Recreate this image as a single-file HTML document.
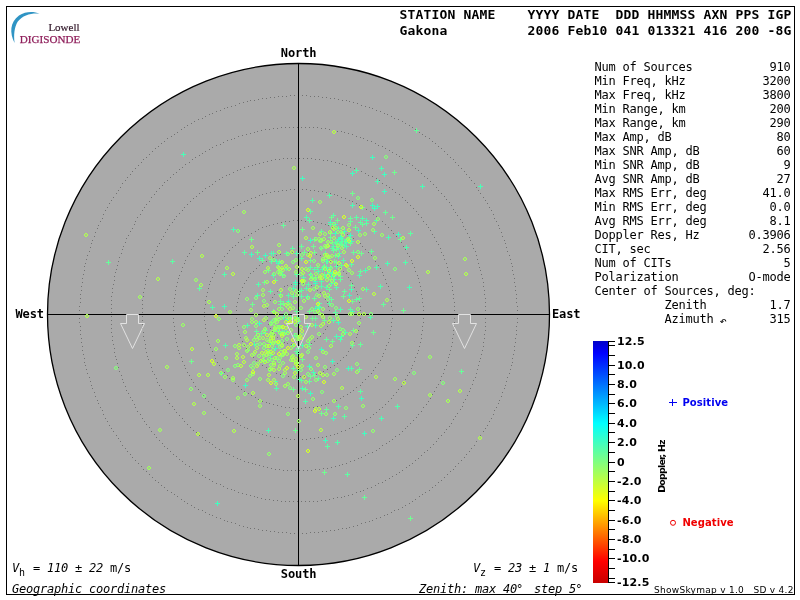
<!DOCTYPE html>
<html lang="en"><head><meta charset="utf-8"><title>Skymap - Gakona</title>
<style>
html,body{margin:0;padding:0;background:#fff;}
body{width:800px;height:600px;overflow:hidden;position:relative;}
svg{position:absolute;left:0;top:0;display:block;}
text{white-space:pre;}
.m{font-family:"DejaVu Sans Mono","Liberation Mono",monospace;font-size:12px;letter-spacing:-0.224px;fill:#000;}
.mb{font-family:"DejaVu Sans Mono","Liberation Mono",monospace;font-size:12px;font-weight:bold;letter-spacing:-0.1px;fill:#000;}
.hb{font-family:"DejaVu Sans Mono","Liberation Mono",monospace;font-size:13px;font-weight:bold;letter-spacing:0.174px;fill:#000;}
.i{font-style:oblique;}
.sb{font-family:"DejaVu Sans","Liberation Sans",sans-serif;font-weight:bold;fill:#000;}
.s{font-family:"DejaVu Sans","Liberation Sans",sans-serif;fill:#000;}
.lg{font-family:"Liberation Serif","DejaVu Serif",serif;}
</style></head><body>
<svg width="800" height="600" viewBox="0 0 800 600">
<rect x="6.5" y="6.5" width="788" height="588" fill="#fff" stroke="#000" stroke-width="1"/>
<path d="M14.6 43 C9.5 33 9.8 22 19 15.5 C25.5 11.3 33.5 11.2 39.5 13.6 C31 12.9 22.6 15.2 17.8 21.6 C14.2 27.5 13.6 35 14.6 43 Z" fill="#2f94c4"/>
<text class="lg" x="48.4" y="30.6" font-size="11" fill="#33192b" stroke="#33192b" stroke-width="0.2">Lowell</text>
<text class="lg" x="19.8" y="42.5" font-size="11.1" fill="#8f1f5b" stroke="#8f1f5b" stroke-width="0.25">DIGISONDE</text>
<text class="hb" x="399.4" y="19.2">STATION NAME    YYYY DATE  DDD HHMMSS AXN PPS IGP</text>
<text class="hb" x="399.4" y="35.2">Gakona          2006 Feb10 041 013321 416 200 -8G</text>
<circle cx="298.5" cy="314.5" r="251" fill="#aaaaaa" stroke="#000" stroke-width="1.3"/>
<path d="M329 314.5h1M329 318.5h1M328 322.5h1M327 326.5h1M325 329.5h1M323 333.5h1M320 336.5h1M317 338.5h1M314 341.5h1M311 343.5h1M307 344.5h1M303 345.5h1M299 345.5h1M295 345.5h1M291 344.5h1M287 343.5h1M284 342.5h1M280 340.5h1M277 337.5h1M274 334.5h1M272 331.5h1M270 328.5h1M268 324.5h1M267 320.5h1M267 316.5h1M267 312.5h1M267 308.5h1M268 304.5h1M270 300.5h1M272 297.5h1M274 294.5h1M277 291.5h1M280 288.5h1M284 286.5h1M287 285.5h1M291 284.5h1M295 283.5h1M299 283.5h1M303 283.5h1M307 284.5h1M311 285.5h1M314 287.5h1M317 290.5h1M320 292.5h1M323 295.5h1M325 299.5h1M327 302.5h1M328 306.5h1M329 310.5h1M361 314.5h1M360 318.5h1M360 322.5h1M359 326.5h1M358 330.5h1M357 334.5h1M356 337.5h1M354 341.5h1M352 345.5h1M350 348.5h1M348 351.5h1M346 355.5h1M343 357.5h1M340 360.5h1M337 363.5h1M334 365.5h1M330 367.5h1M327 369.5h1M323 371.5h1M320 373.5h1M316 374.5h1M312 375.5h1M308 376.5h1M304 376.5h1M300 376.5h1M296 376.5h1M292 376.5h1M288 376.5h1M284 375.5h1M280 374.5h1M276 373.5h1M273 371.5h1M269 369.5h1M266 367.5h1M262 365.5h1M259 363.5h1M256 360.5h1M253 357.5h1M250 355.5h1M248 351.5h1M246 348.5h1M244 345.5h1M242 341.5h1M240 337.5h1M239 334.5h1M238 330.5h1M237 326.5h1M236 322.5h1M236 318.5h1M236 314.5h1M236 310.5h1M236 306.5h1M237 302.5h1M238 298.5h1M239 294.5h1M240 291.5h1M242 287.5h1M244 283.5h1M246 280.5h1M248 277.5h1M250 273.5h1M253 271.5h1M256 268.5h1M259 265.5h1M262 263.5h1M266 261.5h1M269 259.5h1M273 257.5h1M276 255.5h1M280 254.5h1M284 253.5h1M288 252.5h1M292 252.5h1M296 252.5h1M300 252.5h1M304 252.5h1M308 252.5h1M312 253.5h1M316 254.5h1M320 255.5h1M323 257.5h1M327 259.5h1M330 261.5h1M334 263.5h1M337 265.5h1M340 268.5h1M343 271.5h1M346 273.5h1M348 277.5h1M350 280.5h1M352 283.5h1M354 287.5h1M356 291.5h1M357 294.5h1M358 298.5h1M359 302.5h1M360 306.5h1M360 310.5h1M392 314.5h1M392 318.5h1M391 322.5h1M391 326.5h1M390 330.5h1M390 334.5h1M389 338.5h1M388 342.5h1M386 345.5h1M385 349.5h1M383 353.5h1M382 356.5h1M380 360.5h1M378 363.5h1M375 367.5h1M373 370.5h1M371 373.5h1M368 376.5h1M365 379.5h1M362 382.5h1M360 385.5h1M356 387.5h1M353 390.5h1M350 392.5h1M347 394.5h1M343 396.5h1M340 398.5h1M336 400.5h1M332 401.5h1M328 403.5h1M325 404.5h1M321 405.5h1M317 406.5h1M313 407.5h1M309 407.5h1M305 407.5h1M301 408.5h1M297 408.5h1M293 408.5h1M289 407.5h1M285 407.5h1M281 406.5h1M277 405.5h1M273 404.5h1M269 403.5h1M266 402.5h1M262 401.5h1M258 399.5h1M255 397.5h1M251 395.5h1M248 393.5h1M244 391.5h1M241 389.5h1M238 386.5h1M235 383.5h1M232 381.5h1M229 378.5h1M227 375.5h1M224 372.5h1M222 368.5h1M219 365.5h1M217 362.5h1M215 358.5h1M214 355.5h1M212 351.5h1M210 347.5h1M209 344.5h1M208 340.5h1M207 336.5h1M206 332.5h1M205 328.5h1M205 324.5h1M204 320.5h1M204 316.5h1M204 312.5h1M204 308.5h1M205 304.5h1M205 300.5h1M206 296.5h1M207 292.5h1M208 288.5h1M209 284.5h1M210 281.5h1M212 277.5h1M214 273.5h1M215 270.5h1M217 266.5h1M219 263.5h1M222 260.5h1M224 256.5h1M227 253.5h1M229 250.5h1M232 247.5h1M235 245.5h1M238 242.5h1M241 239.5h1M244 237.5h1M248 235.5h1M251 233.5h1M255 231.5h1M258 229.5h1M262 227.5h1M266 226.5h1M269 225.5h1M273 224.5h1M277 223.5h1M281 222.5h1M285 221.5h1M289 221.5h1M293 220.5h1M297 220.5h1M301 220.5h1M305 221.5h1M309 221.5h1M313 221.5h1M317 222.5h1M321 223.5h1M325 224.5h1M328 225.5h1M332 227.5h1M336 228.5h1M340 230.5h1M343 232.5h1M347 234.5h1M350 236.5h1M353 238.5h1M356 241.5h1M360 243.5h1M362 246.5h1M365 249.5h1M368 252.5h1M371 255.5h1M373 258.5h1M375 261.5h1M378 265.5h1M380 268.5h1M382 272.5h1M383 275.5h1M385 279.5h1M386 283.5h1M388 286.5h1M389 290.5h1M390 294.5h1M390 298.5h1M391 302.5h1M391 306.5h1M392 310.5h1M423 314.5h1M423 318.5h1M423 322.5h1M422 326.5h1M422 330.5h1M421 334.5h1M421 338.5h1M420 342.5h1M419 346.5h1M418 350.5h1M417 353.5h1M415 357.5h1M414 361.5h1M412 365.5h1M411 368.5h1M409 372.5h1M407 375.5h1M405 379.5h1M403 382.5h1M401 386.5h1M398 389.5h1M396 392.5h1M393 395.5h1M391 398.5h1M388 401.5h1M385 404.5h1M382 407.5h1M379 409.5h1M376 412.5h1M373 414.5h1M370 417.5h1M366 419.5h1M363 421.5h1M359 423.5h1M356 425.5h1M352 427.5h1M349 428.5h1M345 430.5h1M341 431.5h1M337 433.5h1M334 434.5h1M330 435.5h1M326 436.5h1M322 437.5h1M318 437.5h1M314 438.5h1M310 438.5h1M306 439.5h1M302 439.5h1M298 439.5h1M294 439.5h1M290 439.5h1M286 438.5h1M282 438.5h1M278 437.5h1M274 437.5h1M270 436.5h1M266 435.5h1M262 434.5h1M259 433.5h1M255 431.5h1M251 430.5h1M247 428.5h1M244 427.5h1M240 425.5h1M237 423.5h1M233 421.5h1M230 419.5h1M226 417.5h1M223 414.5h1M220 412.5h1M217 409.5h1M214 407.5h1M211 404.5h1M208 401.5h1M205 398.5h1M203 395.5h1M200 392.5h1M198 389.5h1M195 386.5h1M193 382.5h1M191 379.5h1M189 375.5h1M187 372.5h1M185 368.5h1M184 365.5h1M182 361.5h1M181 357.5h1M179 353.5h1M178 350.5h1M177 346.5h1M176 342.5h1M175 338.5h1M175 334.5h1M174 330.5h1M174 326.5h1M173 322.5h1M173 318.5h1M173 314.5h1M173 310.5h1M173 306.5h1M174 302.5h1M174 298.5h1M175 294.5h1M175 290.5h1M176 286.5h1M177 282.5h1M178 278.5h1M179 275.5h1M181 271.5h1M182 267.5h1M184 263.5h1M185 260.5h1M187 256.5h1M189 253.5h1M191 249.5h1M193 246.5h1M195 242.5h1M198 239.5h1M200 236.5h1M203 233.5h1M205 230.5h1M208 227.5h1M211 224.5h1M214 221.5h1M217 219.5h1M220 216.5h1M223 214.5h1M226 211.5h1M230 209.5h1M233 207.5h1M237 205.5h1M240 203.5h1M244 201.5h1M247 200.5h1M251 198.5h1M255 197.5h1M259 195.5h1M262 194.5h1M266 193.5h1M270 192.5h1M274 191.5h1M278 191.5h1M282 190.5h1M286 190.5h1M290 189.5h1M294 189.5h1M298 189.5h1M302 189.5h1M306 189.5h1M310 190.5h1M314 190.5h1M318 191.5h1M322 191.5h1M326 192.5h1M330 193.5h1M334 194.5h1M337 195.5h1M341 197.5h1M345 198.5h1M349 200.5h1M352 201.5h1M356 203.5h1M359 205.5h1M363 207.5h1M366 209.5h1M370 211.5h1M373 214.5h1M376 216.5h1M379 219.5h1M382 221.5h1M385 224.5h1M388 227.5h1M391 230.5h1M393 233.5h1M396 236.5h1M398 239.5h1M401 242.5h1M403 246.5h1M405 249.5h1M407 253.5h1M409 256.5h1M411 260.5h1M412 263.5h1M414 267.5h1M415 271.5h1M417 275.5h1M418 278.5h1M419 282.5h1M420 286.5h1M421 290.5h1M421 294.5h1M422 298.5h1M422 302.5h1M423 306.5h1M423 310.5h1M454 314.5h1M454 318.5h1M454 322.5h1M454 326.5h1M453 330.5h1M453 334.5h1M452 338.5h1M452 342.5h1M451 346.5h1M450 350.5h1M449 354.5h1M448 357.5h1M447 361.5h1M446 365.5h1M444 369.5h1M443 373.5h1M441 376.5h1M440 380.5h1M438 384.5h1M436 387.5h1M434 391.5h1M432 394.5h1M430 398.5h1M428 401.5h1M426 404.5h1M423 407.5h1M421 411.5h1M418 414.5h1M416 417.5h1M413 420.5h1M410 423.5h1M407 426.5h1M405 428.5h1M402 431.5h1M399 434.5h1M395 436.5h1M392 439.5h1M389 441.5h1M386 443.5h1M382 445.5h1M379 448.5h1M376 450.5h1M372 452.5h1M368 453.5h1M365 455.5h1M361 457.5h1M358 458.5h1M354 460.5h1M350 461.5h1M346 463.5h1M342 464.5h1M339 465.5h1M335 466.5h1M331 467.5h1M327 468.5h1M323 468.5h1M319 469.5h1M315 469.5h1M311 470.5h1M307 470.5h1M303 470.5h1M299 470.5h1M295 470.5h1M291 470.5h1M287 470.5h1M283 470.5h1M279 469.5h1M275 469.5h1M271 468.5h1M267 467.5h1M263 466.5h1M259 465.5h1M255 464.5h1M252 463.5h1M248 462.5h1M244 461.5h1M240 459.5h1M237 458.5h1M233 456.5h1M229 454.5h1M226 453.5h1M222 451.5h1M219 449.5h1M215 447.5h1M212 444.5h1M209 442.5h1M205 440.5h1M202 437.5h1M199 435.5h1M196 432.5h1M193 430.5h1M190 427.5h1M187 424.5h1M184 421.5h1M182 418.5h1M179 415.5h1M176 412.5h1M174 409.5h1M172 406.5h1M169 403.5h1M167 399.5h1M165 396.5h1M163 392.5h1M161 389.5h1M159 385.5h1M157 382.5h1M156 378.5h1M154 374.5h1M152 371.5h1M151 367.5h1M150 363.5h1M148 359.5h1M147 356.5h1M146 352.5h1M145 348.5h1M145 344.5h1M144 340.5h1M143 336.5h1M143 332.5h1M142 328.5h1M142 324.5h1M142 320.5h1M142 316.5h1M142 312.5h1M142 308.5h1M142 304.5h1M142 300.5h1M143 296.5h1M143 292.5h1M144 288.5h1M145 284.5h1M145 280.5h1M146 276.5h1M147 272.5h1M148 269.5h1M150 265.5h1M151 261.5h1M152 257.5h1M154 254.5h1M156 250.5h1M157 246.5h1M159 243.5h1M161 239.5h1M163 236.5h1M165 232.5h1M167 229.5h1M169 225.5h1M172 222.5h1M174 219.5h1M176 216.5h1M179 213.5h1M182 210.5h1M184 207.5h1M187 204.5h1M190 201.5h1M193 198.5h1M196 196.5h1M199 193.5h1M202 191.5h1M205 188.5h1M209 186.5h1M212 184.5h1M215 181.5h1M219 179.5h1M222 177.5h1M226 175.5h1M229 174.5h1M233 172.5h1M237 170.5h1M240 169.5h1M244 167.5h1M248 166.5h1M252 165.5h1M255 164.5h1M259 163.5h1M263 162.5h1M267 161.5h1M271 160.5h1M275 159.5h1M279 159.5h1M283 158.5h1M287 158.5h1M291 158.5h1M295 158.5h1M299 158.5h1M303 158.5h1M307 158.5h1M311 158.5h1M315 159.5h1M319 159.5h1M323 160.5h1M327 160.5h1M331 161.5h1M335 162.5h1M339 163.5h1M342 164.5h1M346 165.5h1M350 167.5h1M354 168.5h1M358 170.5h1M361 171.5h1M365 173.5h1M368 175.5h1M372 176.5h1M376 178.5h1M379 180.5h1M382 183.5h1M386 185.5h1M389 187.5h1M392 189.5h1M395 192.5h1M399 194.5h1M402 197.5h1M405 200.5h1M407 202.5h1M410 205.5h1M413 208.5h1M416 211.5h1M418 214.5h1M421 217.5h1M423 221.5h1M426 224.5h1M428 227.5h1M430 230.5h1M432 234.5h1M434 237.5h1M436 241.5h1M438 244.5h1M440 248.5h1M441 252.5h1M443 255.5h1M444 259.5h1M446 263.5h1M447 267.5h1M448 271.5h1M449 274.5h1M450 278.5h1M451 282.5h1M452 286.5h1M452 290.5h1M453 294.5h1M453 298.5h1M454 302.5h1M454 306.5h1M454 310.5h1M486 314.5h1M485 318.5h1M485 322.5h1M485 326.5h1M485 330.5h1M484 334.5h1M484 338.5h1M483 342.5h1M483 346.5h1M482 350.5h1M481 354.5h1M480 358.5h1M479 361.5h1M478 365.5h1M477 369.5h1M476 373.5h1M475 377.5h1M473 380.5h1M472 384.5h1M470 388.5h1M469 391.5h1M467 395.5h1M465 399.5h1M463 402.5h1M462 406.5h1M460 409.5h1M457 413.5h1M455 416.5h1M453 419.5h1M451 423.5h1M449 426.5h1M446 429.5h1M444 432.5h1M441 435.5h1M438 438.5h1M436 441.5h1M433 444.5h1M430 447.5h1M427 450.5h1M424 452.5h1M421 455.5h1M418 458.5h1M415 460.5h1M412 463.5h1M409 465.5h1M406 467.5h1M402 470.5h1M399 472.5h1M396 474.5h1M392 476.5h1M389 478.5h1M385 480.5h1M382 482.5h1M378 483.5h1M375 485.5h1M371 487.5h1M367 488.5h1M363 490.5h1M360 491.5h1M356 492.5h1M352 494.5h1M348 495.5h1M344 496.5h1M341 497.5h1M337 497.5h1M333 498.5h1M329 499.5h1M325 500.5h1M321 500.5h1M317 501.5h1M313 501.5h1M309 501.5h1M305 501.5h1M301 501.5h1M297 501.5h1M293 501.5h1M289 501.5h1M285 501.5h1M281 501.5h1M277 500.5h1M273 500.5h1M269 499.5h1M265 499.5h1M261 498.5h1M257 497.5h1M254 496.5h1M250 495.5h1M246 494.5h1M242 493.5h1M238 492.5h1M234 490.5h1M231 489.5h1M227 488.5h1M223 486.5h1M220 484.5h1M216 483.5h1M212 481.5h1M209 479.5h1M205 477.5h1M202 475.5h1M199 473.5h1M195 471.5h1M192 469.5h1M189 466.5h1M185 464.5h1M182 461.5h1M179 459.5h1M176 456.5h1M173 454.5h1M170 451.5h1M167 448.5h1M164 446.5h1M162 443.5h1M159 440.5h1M156 437.5h1M154 434.5h1M151 431.5h1M149 427.5h1M146 424.5h1M144 421.5h1M142 418.5h1M140 414.5h1M137 411.5h1M135 407.5h1M134 404.5h1M132 400.5h1M130 397.5h1M128 393.5h1M126 390.5h1M125 386.5h1M123 382.5h1M122 379.5h1M121 375.5h1M119 371.5h1M118 367.5h1M117 363.5h1M116 359.5h1M115 356.5h1M114 352.5h1M114 348.5h1M113 344.5h1M112 340.5h1M112 336.5h1M111 332.5h1M111 328.5h1M111 324.5h1M111 320.5h1M111 316.5h1M111 312.5h1M111 308.5h1M111 304.5h1M111 300.5h1M111 296.5h1M112 292.5h1M112 288.5h1M113 284.5h1M114 280.5h1M114 276.5h1M115 272.5h1M116 269.5h1M117 265.5h1M118 261.5h1M119 257.5h1M121 253.5h1M122 249.5h1M123 246.5h1M125 242.5h1M126 238.5h1M128 235.5h1M130 231.5h1M132 228.5h1M134 224.5h1M135 221.5h1M137 217.5h1M140 214.5h1M142 210.5h1M144 207.5h1M146 204.5h1M149 201.5h1M151 197.5h1M154 194.5h1M156 191.5h1M159 188.5h1M162 185.5h1M164 182.5h1M167 180.5h1M170 177.5h1M173 174.5h1M176 172.5h1M179 169.5h1M182 167.5h1M185 164.5h1M189 162.5h1M192 159.5h1M195 157.5h1M199 155.5h1M202 153.5h1M205 151.5h1M209 149.5h1M212 147.5h1M216 145.5h1M220 144.5h1M223 142.5h1M227 140.5h1M231 139.5h1M234 138.5h1M238 136.5h1M242 135.5h1M246 134.5h1M250 133.5h1M254 132.5h1M257 131.5h1M261 130.5h1M265 129.5h1M269 129.5h1M273 128.5h1M277 128.5h1M281 127.5h1M285 127.5h1M289 127.5h1M293 127.5h1M297 127.5h1M301 127.5h1M305 127.5h1M309 127.5h1M313 127.5h1M317 127.5h1M321 128.5h1M325 128.5h1M329 129.5h1M333 130.5h1M337 131.5h1M341 131.5h1M344 132.5h1M348 133.5h1M352 134.5h1M356 136.5h1M360 137.5h1M363 138.5h1M367 140.5h1M371 141.5h1M375 143.5h1M378 145.5h1M382 146.5h1M385 148.5h1M389 150.5h1M392 152.5h1M396 154.5h1M399 156.5h1M402 158.5h1M406 161.5h1M409 163.5h1M412 165.5h1M415 168.5h1M418 170.5h1M421 173.5h1M424 176.5h1M427 178.5h1M430 181.5h1M433 184.5h1M436 187.5h1M438 190.5h1M441 193.5h1M444 196.5h1M446 199.5h1M449 202.5h1M451 205.5h1M453 209.5h1M455 212.5h1M457 215.5h1M460 219.5h1M462 222.5h1M463 226.5h1M465 229.5h1M467 233.5h1M469 237.5h1M470 240.5h1M472 244.5h1M473 248.5h1M475 251.5h1M476 255.5h1M477 259.5h1M478 263.5h1M479 267.5h1M480 270.5h1M481 274.5h1M482 278.5h1M483 282.5h1M483 286.5h1M484 290.5h1M484 294.5h1M485 298.5h1M485 302.5h1M485 306.5h1M485 310.5h1M517 314.5h1M517 318.5h1M517 322.5h1M516 326.5h1M516 330.5h1M516 334.5h1M515 338.5h1M515 342.5h1M514 346.5h1M514 350.5h1M513 354.5h1M512 358.5h1M512 362.5h1M511 365.5h1M510 369.5h1M509 373.5h1M507 377.5h1M506 381.5h1M505 385.5h1M504 388.5h1M502 392.5h1M501 396.5h1M499 400.5h1M498 403.5h1M496 407.5h1M494 410.5h1M493 414.5h1M491 418.5h1M489 421.5h1M487 425.5h1M485 428.5h1M483 431.5h1M480 435.5h1M478 438.5h1M476 441.5h1M474 445.5h1M471 448.5h1M469 451.5h1M466 454.5h1M464 457.5h1M461 460.5h1M458 463.5h1M455 466.5h1M453 469.5h1M450 471.5h1M447 474.5h1M444 477.5h1M441 480.5h1M438 482.5h1M435 485.5h1M432 487.5h1M429 490.5h1M425 492.5h1M422 494.5h1M419 496.5h1M415 499.5h1M412 501.5h1M409 503.5h1M405 505.5h1M402 507.5h1M398 509.5h1M394 510.5h1M391 512.5h1M387 514.5h1M384 515.5h1M380 517.5h1M376 518.5h1M372 520.5h1M369 521.5h1M365 522.5h1M361 523.5h1M357 525.5h1M353 526.5h1M349 527.5h1M346 528.5h1M342 528.5h1M338 529.5h1M334 530.5h1M330 530.5h1M326 531.5h1M322 531.5h1M318 532.5h1M314 532.5h1M310 532.5h1M306 533.5h1M302 533.5h1M298 533.5h1M294 533.5h1M290 533.5h1M286 532.5h1M282 532.5h1M278 532.5h1M274 531.5h1M270 531.5h1M266 530.5h1M262 530.5h1M258 529.5h1M254 528.5h1M250 528.5h1M247 527.5h1M243 526.5h1M239 525.5h1M235 523.5h1M231 522.5h1M227 521.5h1M224 520.5h1M220 518.5h1M216 517.5h1M212 515.5h1M209 514.5h1M205 512.5h1M202 510.5h1M198 509.5h1M194 507.5h1M191 505.5h1M187 503.5h1M184 501.5h1M181 499.5h1M177 496.5h1M174 494.5h1M171 492.5h1M167 490.5h1M164 487.5h1M161 485.5h1M158 482.5h1M155 480.5h1M152 477.5h1M149 474.5h1M146 471.5h1M143 469.5h1M141 466.5h1M138 463.5h1M135 460.5h1M132 457.5h1M130 454.5h1M127 451.5h1M125 448.5h1M122 445.5h1M120 441.5h1M118 438.5h1M116 435.5h1M113 431.5h1M111 428.5h1M109 425.5h1M107 421.5h1M105 418.5h1M103 414.5h1M102 410.5h1M100 407.5h1M98 403.5h1M97 400.5h1M95 396.5h1M94 392.5h1M92 388.5h1M91 385.5h1M90 381.5h1M89 377.5h1M87 373.5h1M86 369.5h1M85 365.5h1M84 362.5h1M84 358.5h1M83 354.5h1M82 350.5h1M82 346.5h1M81 342.5h1M81 338.5h1M80 334.5h1M80 330.5h1M80 326.5h1M79 322.5h1M79 318.5h1M79 314.5h1M79 310.5h1M79 306.5h1M80 302.5h1M80 298.5h1M80 294.5h1M81 290.5h1M81 286.5h1M82 282.5h1M82 278.5h1M83 274.5h1M84 270.5h1M84 266.5h1M85 263.5h1M86 259.5h1M87 255.5h1M89 251.5h1M90 247.5h1M91 243.5h1M92 240.5h1M94 236.5h1M95 232.5h1M97 228.5h1M98 225.5h1M100 221.5h1M102 218.5h1M103 214.5h1M105 210.5h1M107 207.5h1M109 203.5h1M111 200.5h1M113 197.5h1M116 193.5h1M118 190.5h1M120 187.5h1M122 183.5h1M125 180.5h1M127 177.5h1M130 174.5h1M132 171.5h1M135 168.5h1M138 165.5h1M141 162.5h1M143 159.5h1M146 157.5h1M149 154.5h1M152 151.5h1M155 148.5h1M158 146.5h1M161 143.5h1M164 141.5h1M167 138.5h1M171 136.5h1M174 134.5h1M177 132.5h1M181 129.5h1M184 127.5h1M187 125.5h1M191 123.5h1M194 121.5h1M198 119.5h1M202 118.5h1M205 116.5h1M209 114.5h1M212 113.5h1M216 111.5h1M220 110.5h1M224 108.5h1M227 107.5h1M231 106.5h1M235 105.5h1M239 103.5h1M243 102.5h1M247 101.5h1M250 100.5h1M254 100.5h1M258 99.5h1M262 98.5h1M266 98.5h1M270 97.5h1M274 97.5h1M278 96.5h1M282 96.5h1M286 96.5h1M290 95.5h1M294 95.5h1M298 95.5h1M302 95.5h1M306 95.5h1M310 96.5h1M314 96.5h1M318 96.5h1M322 97.5h1M326 97.5h1M330 98.5h1M334 98.5h1M338 99.5h1M342 100.5h1M346 100.5h1M349 101.5h1M353 102.5h1M357 103.5h1M361 105.5h1M365 106.5h1M369 107.5h1M372 108.5h1M376 110.5h1M380 111.5h1M384 113.5h1M387 114.5h1M391 116.5h1M394 118.5h1M398 119.5h1M402 121.5h1M405 123.5h1M409 125.5h1M412 127.5h1M415 129.5h1M419 132.5h1M422 134.5h1M425 136.5h1M429 138.5h1M432 141.5h1M435 143.5h1M438 146.5h1M441 148.5h1M444 151.5h1M447 154.5h1M450 157.5h1M453 159.5h1M455 162.5h1M458 165.5h1M461 168.5h1M464 171.5h1M466 174.5h1M469 177.5h1M471 180.5h1M474 183.5h1M476 187.5h1M478 190.5h1M480 193.5h1M483 197.5h1M485 200.5h1M487 203.5h1M489 207.5h1M491 210.5h1M493 214.5h1M494 218.5h1M496 221.5h1M498 225.5h1M499 228.5h1M501 232.5h1M502 236.5h1M504 240.5h1M505 243.5h1M506 247.5h1M507 251.5h1M509 255.5h1M510 259.5h1M511 263.5h1M512 266.5h1M512 270.5h1M513 274.5h1M514 278.5h1M514 282.5h1M515 286.5h1M515 290.5h1M516 294.5h1M516 298.5h1M516 302.5h1M517 306.5h1M517 310.5h1" stroke="#727272" stroke-width="1" fill="none" shape-rendering="crispEdges"/>
<path d="M298.5 63.5V565.5M47.5 314.5H549.5" stroke="#000" stroke-width="1" fill="none"/>
<text class="mb" x="280.8" y="57">North</text>
<text class="mb" x="280.8" y="578">South</text>
<text class="mb" x="15.5" y="318">West</text>
<text class="mb" x="552" y="318">East</text>
<path d="M370 157.5h5M372.5 155v5M350 173.5h5M352.5 171v5M300 178.5h5M302.5 176v5M382 174.5h5M384.5 172v5M382 191.5h5M384.5 189v5M370 205.5h5M372.5 203v5M375 206.5h5M377.5 204v5M372 208.5h5M374.5 206v5M396 234.5h5M398.5 232v5M362 433.5h5M364.5 431v5M323 440.5h5M325.5 438v5M215 503.5h5M217.5 501v5M249 254.5h5M251.5 252v5M257 258.5h5M259.5 256v5M263 255.5h5M265.5 253v5M274 261.5h5M276.5 259v5M293 282.5h5M295.5 280v5M328 222.5h5M330.5 220v5M333 224.5h5M335.5 222v5M356 230.5h5M358.5 228v5M308 240.5h5M310.5 238v5M333 233.5h5M335.5 231v5M348 235.5h5M350.5 233v5M243 385.5h5M245.5 383v5M336 322.5h5M338.5 320v5M319 349.5h5M321.5 347v5M330 361.5h5M332.5 359v5M307 366.5h5M309.5 364v5M346 368.5h5M348.5 366v5M308 393.5h5M310.5 391v5M359 398.5h5M361.5 396v5M331 418.5h5M333.5 416v5M336 256.5h5M338.5 254v5M325 270.5h5M327.5 268v5M329 276.5h5M331.5 274v5M308 274.5h5M310.5 272v5M313 283.5h5M315.5 281v5M347 295.5h5M349.5 293v5M305 296.5h5M307.5 294v5M257 323.5h5M259.5 321v5M268 344.5h5M270.5 342v5M273 348.5h5M275.5 346v5M293 318.5h5M295.5 316v5M333 274.5h5M335.5 272v5M333 274.5h5M335.5 272v5M313 281.5h5M315.5 279v5M276 331.5h5M278.5 329v5M332 279.5h5M334.5 277v5M336 239.5h5M338.5 237v5M342 245.5h5M344.5 243v5M344 242.5h5M346.5 240v5M338 237.5h5M340.5 235v5M324 267.5h5M326.5 265v5" stroke="#40ffc0" stroke-width="1" fill="none" shape-rendering="crispEdges"/>
<path d="M181 154.5h5M183.5 152v5M478 186.5h5M480.5 184v5M420 186.5h5M422.5 184v5M379 168.5h5M381.5 166v5M375 181.5h5M377.5 179v5M407 287.5h5M409.5 285v5M266 430.5h5M268.5 428v5M231 229.5h5M233.5 227v5M276 263.5h5M278.5 261v5M271 275.5h5M273.5 273v5M222 306.5h5M224.5 304v5M286 301.5h5M288.5 299v5M293 284.5h5M295.5 282v5M350 205.5h5M352.5 203v5M364 220.5h5M366.5 218v5M372 231.5h5M374.5 229v5M386 237.5h5M388.5 235v5M342 231.5h5M344.5 229v5M385 263.5h5M387.5 261v5M363 270.5h5M365.5 268v5M349 289.5h5M351.5 287v5M350 311.5h5M352.5 309v5M219 373.5h5M221.5 371v5M313 325.5h5M315.5 323v5M334 336.5h5M336.5 334v5M300 345.5h5M302.5 343v5M311 372.5h5M313.5 370v5M300 388.5h5M302.5 386v5M379 418.5h5M381.5 416v5M273 381.5h5M275.5 379v5M320 269.5h5M322.5 267v5M349 241.5h5M351.5 239v5M327 297.5h5M329.5 295v5M313 308.5h5M315.5 306v5M317 307.5h5M319.5 305v5M252 344.5h5M254.5 342v5M291 345.5h5M293.5 343v5M342 241.5h5M344.5 239v5M266 352.5h5M268.5 350v5M269 253.5h5M271.5 251v5M291 288.5h5M293.5 286v5" stroke="#4affb6" stroke-width="1" fill="none" shape-rendering="crispEdges"/>
<path d="M354 170.5h5M356.5 168v5M404 247.5h5M406.5 245v5M403 262.5h5M405.5 260v5M395 406.5h5M397.5 404v5M335 442.5h5M337.5 440v5M271 253.5h5M273.5 251v5M284 253.5h5M286.5 251v5M294 253.5h5M296.5 251v5M222 274.5h5M224.5 272v5M256 284.5h5M258.5 282v5M255 295.5h5M257.5 293v5M210 307.5h5M212.5 305v5M286 295.5h5M288.5 293v5M327 195.5h5M329.5 193v5M310 200.5h5M312.5 198v5M304 217.5h5M306.5 215v5M360 218.5h5M362.5 216v5M374 220.5h5M376.5 218v5M336 228.5h5M338.5 226v5M335 241.5h5M337.5 239v5M339 238.5h5M341.5 236v5M374 267.5h5M376.5 265v5M357 275.5h5M359.5 273v5M378 286.5h5M380.5 284v5M364 289.5h5M366.5 287v5M223 345.5h5M225.5 343v5M245 325.5h5M247.5 323v5M331 320.5h5M333.5 318v5M368 317.5h5M370.5 315v5M305 326.5h5M307.5 324v5M343 332.5h5M345.5 330v5M339 336.5h5M341.5 334v5M338 339.5h5M340.5 337v5M349 368.5h5M351.5 366v5M274 388.5h5M276.5 386v5M303 401.5h5M305.5 399v5M336 406.5h5M338.5 404v5M268 355.5h5M270.5 353v5M297 379.5h5M299.5 377v5M312 269.5h5M314.5 267v5M323 253.5h5M325.5 251v5M337 244.5h5M339.5 242v5M344 246.5h5M346.5 244v5M341 260.5h5M343.5 258v5M330 272.5h5M332.5 270v5M323 277.5h5M325.5 275v5M301 277.5h5M303.5 275v5M325 261.5h5M327.5 259v5M319 281.5h5M321.5 279v5M306 284.5h5M308.5 282v5M304 288.5h5M306.5 286v5M329 283.5h5M331.5 281v5M324 287.5h5M326.5 285v5M334 287.5h5M336.5 285v5M338 309.5h5M340.5 307v5M281 317.5h5M283.5 315v5M269 322.5h5M271.5 320v5M278 333.5h5M280.5 331v5M284 332.5h5M286.5 330v5M344 240.5h5M346.5 238v5M336 248.5h5M338.5 246v5M285 319.5h5M287.5 317v5M296 321.5h5M298.5 319v5M324 267.5h5M326.5 265v5M313 277.5h5M315.5 275v5M337 253.5h5M339.5 251v5M324 261.5h5M326.5 259v5M331 246.5h5M333.5 244v5M332 283.5h5M334.5 281v5M263 330.5h5M265.5 328v5M316 271.5h5M318.5 269v5M338 243.5h5M340.5 241v5M319 286.5h5M321.5 284v5" stroke="#53ffac" stroke-width="1" fill="none" shape-rendering="crispEdges"/>
<path d="M408 233.5h5M410.5 231v5M325 446.5h5M327.5 444v5M345 474.5h5M347.5 472v5M170 261.5h5M172.5 259v5M197 288.5h5M199.5 286v5M242 252.5h5M244.5 250v5M269 261.5h5M271.5 259v5M290 248.5h5M292.5 246v5M280 275.5h5M282.5 273v5M268 291.5h5M270.5 289v5M278 294.5h5M280.5 292v5M294 274.5h5M296.5 272v5M284 268.5h5M286.5 266v5M308 211.5h5M310.5 209v5M307 220.5h5M309.5 218v5M331 215.5h5M333.5 213v5M328 224.5h5M330.5 222v5M354 217.5h5M356.5 215v5M358 222.5h5M360.5 220v5M364 223.5h5M366.5 221v5M345 239.5h5M347.5 237v5M349 264.5h5M351.5 262v5M348 309.5h5M350.5 307v5M358 391.5h5M360.5 389v5M342 416.5h5M344.5 414v5M261 361.5h5M263.5 359v5M291 368.5h5M293.5 366v5M299 258.5h5M301.5 256v5M308 267.5h5M310.5 265v5M330 248.5h5M332.5 246v5M334 243.5h5M336.5 241v5M340 241.5h5M342.5 239v5M334 266.5h5M336.5 264v5M328 267.5h5M330.5 265v5M299 290.5h5M301.5 288v5M299 296.5h5M301.5 294v5M317 303.5h5M319.5 301v5M327 303.5h5M329.5 301v5M333 312.5h5M335.5 310v5M292 335.5h5M294.5 333v5M294 351.5h5M296.5 349v5M288 317.5h5M290.5 315v5M337 244.5h5M339.5 242v5M327 273.5h5M329.5 271v5M282 332.5h5M284.5 330v5M278 307.5h5M280.5 305v5M321 267.5h5M323.5 265v5" stroke="#5dffa3" stroke-width="1" fill="none" shape-rendering="crispEdges"/>
<path d="M414 130.5h5M416.5 128v5M383 212.5h5M385.5 210v5M459 371.5h5M461.5 369v5M362 497.5h5M364.5 495v5M106 262.5h5M108.5 260v5M281 225.5h5M283.5 223v5M260 260.5h5M262.5 258v5M278 272.5h5M280.5 270v5M291 296.5h5M293.5 294v5M278 301.5h5M280.5 299v5M271 311.5h5M273.5 309v5M294 311.5h5M296.5 309v5M348 218.5h5M350.5 216v5M348 221.5h5M350.5 219v5M360 224.5h5M362.5 222v5M319 231.5h5M321.5 229v5M343 241.5h5M345.5 239v5M351 252.5h5M353.5 250v5M369 251.5h5M371.5 249v5M358 271.5h5M360.5 269v5M349 285.5h5M351.5 283v5M357 298.5h5M359.5 296v5M354 299.5h5M356.5 297v5M381 304.5h5M383.5 302v5M313 318.5h5M315.5 316v5M324 339.5h5M326.5 337v5M358 344.5h5M360.5 342v5M350 345.5h5M352.5 343v5M307 344.5h5M309.5 342v5M299 380.5h5M301.5 378v5M307 381.5h5M309.5 379v5M324 409.5h5M326.5 407v5M295 353.5h5M297.5 351v5M299 246.5h5M301.5 244v5M319 248.5h5M321.5 246v5M348 243.5h5M350.5 241v5M339 265.5h5M341.5 263v5M338 276.5h5M340.5 274v5M338 279.5h5M340.5 277v5M327 289.5h5M329.5 287v5M342 291.5h5M344.5 289v5M312 298.5h5M314.5 296v5M329 299.5h5M331.5 297v5M254 331.5h5M256.5 329v5M259 333.5h5M261.5 331v5M263 333.5h5M265.5 331v5M276 344.5h5M278.5 342v5M280 331.5h5M282.5 329v5M316 378.5h5M318.5 376v5M322 274.5h5M324.5 272v5M331 250.5h5M333.5 248v5M277 261.5h5M279.5 259v5M333 242.5h5M335.5 240v5M339 244.5h5M341.5 242v5M316 306.5h5M318.5 304v5M296 348.5h5M298.5 346v5M315 267.5h5M317.5 265v5M330 242.5h5M332.5 240v5" stroke="#66ff99" stroke-width="1" fill="none" shape-rendering="crispEdges"/>
<path d="M392 172.5h5M394.5 170v5M390 217.5h5M392.5 215v5M398 239.5h5M400.5 237v5M401 310.5h5M403.5 308v5M408 518.5h5M410.5 516v5M293 430.5h5M295.5 428v5M322 472.5h5M324.5 470v5M189 361.5h5M191.5 359v5M249 239.5h5M251.5 237v5M255 252.5h5M257.5 250v5M266 270.5h5M268.5 268v5M273 280.5h5M275.5 278v5M262 282.5h5M264.5 280v5M250 304.5h5M252.5 302v5M278 304.5h5M280.5 302v5M281 303.5h5M283.5 301v5M350 193.5h5M352.5 191v5M360 207.5h5M362.5 205v5M300 229.5h5M302.5 227v5M329 217.5h5M331.5 215v5M335 220.5h5M337.5 218v5M353 227.5h5M355.5 225v5M312 239.5h5M314.5 237v5M328 237.5h5M330.5 235v5M359 253.5h5M361.5 251v5M350 301.5h5M352.5 299v5M310 318.5h5M312.5 316v5M322 320.5h5M324.5 318v5M371 332.5h5M373.5 330v5M351 330.5h5M353.5 328v5M330 341.5h5M332.5 339v5M300 359.5h5M302.5 357v5M357 369.5h5M359.5 367v5M312 375.5h5M314.5 373v5M308 376.5h5M310.5 374v5M303 389.5h5M305.5 387v5M291 389.5h5M293.5 387v5M319 413.5h5M321.5 411v5M295 370.5h5M297.5 368v5M311 246.5h5M313.5 244v5M302 252.5h5M304.5 250v5M312 252.5h5M314.5 250v5M308 260.5h5M310.5 258v5M322 266.5h5M324.5 264v5M334 249.5h5M336.5 247v5M333 255.5h5M335.5 253v5M334 273.5h5M336.5 271v5M313 277.5h5M315.5 275v5M332 261.5h5M334.5 259v5M331 279.5h5M333.5 277v5M341 296.5h5M343.5 294v5M307 311.5h5M309.5 309v5M295 317.5h5M297.5 315v5M328 233.5h5M330.5 231v5M339 232.5h5M341.5 230v5M311 310.5h5M313.5 308v5M310 278.5h5M312.5 276v5M297 291.5h5M299.5 289v5M340 245.5h5M342.5 243v5M334 262.5h5M336.5 260v5M347 238.5h5M349.5 236v5" stroke="#70ff90" stroke-width="1" fill="none" shape-rendering="crispEdges"/>
<path d="M385 155.5h2m-2 3h2M384.5 156v2m3 -2v2M371 198.5h2m-2 3h2M370.5 199v2m3 -2v2M394 267.5h2m-2 3h2M393.5 268v2m3 -2v2M413 371.5h2m-2 3h2M412.5 372v2m3 -2v2M442 381.5h2m-2 3h2M441.5 382v2m3 -2v2M115 366.5h2m-2 3h2M114.5 367v2m3 -2v2M203 394.5h2m-2 3h2M202.5 395v2m3 -2v2M237 229.5h2m-2 3h2M236.5 230v2m3 -2v2M273 258.5h2m-2 3h2M272.5 259v2m3 -2v2M255 296.5h2m-2 3h2M254.5 297v2m3 -2v2M263 299.5h2m-2 3h2M262.5 300v2m3 -2v2M281 307.5h2m-2 3h2M280.5 308v2m3 -2v2M285 312.5h2m-2 3h2M284.5 313v2m3 -2v2M292 260.5h2m-2 3h2M291.5 261v2m3 -2v2M287 252.5h2m-2 3h2M286.5 253v2m3 -2v2M357 196.5h2m-2 3h2M356.5 197v2m3 -2v2M320 239.5h2m-2 3h2M319.5 240v2m3 -2v2M357 250.5h2m-2 3h2M356.5 251v2m3 -2v2M370 312.5h2m-2 3h2M369.5 313v2m3 -2v2M227 368.5h2m-2 3h2M226.5 369v2m3 -2v2M234 364.5h2m-2 3h2M233.5 365v2m3 -2v2M301 332.5h2m-2 3h2M300.5 333v2m3 -2v2M339 327.5h2m-2 3h2M338.5 328v2m3 -2v2M342 328.5h2m-2 3h2M341.5 329v2m3 -2v2M308 346.5h2m-2 3h2M307.5 347v2m3 -2v2M307 350.5h2m-2 3h2M306.5 351v2m3 -2v2M336 368.5h2m-2 3h2M335.5 369v2m3 -2v2M307 372.5h2m-2 3h2M306.5 373v2m3 -2v2M300 368.5h2m-2 3h2M299.5 369v2m3 -2v2M289 386.5h2m-2 3h2M288.5 387v2m3 -2v2M321 390.5h2m-2 3h2M320.5 391v2m3 -2v2M281 353.5h2m-2 3h2M280.5 354v2m3 -2v2M268 357.5h2m-2 3h2M267.5 358v2m3 -2v2M271 358.5h2m-2 3h2M270.5 359v2m3 -2v2M269 368.5h2m-2 3h2M268.5 369v2m3 -2v2M278 359.5h2m-2 3h2M277.5 360v2m3 -2v2M253 361.5h2m-2 3h2M252.5 362v2m3 -2v2M250 364.5h2m-2 3h2M249.5 365v2m3 -2v2M282 374.5h2m-2 3h2M281.5 375v2m3 -2v2M320 246.5h2m-2 3h2M319.5 247v2m3 -2v2M319 239.5h2m-2 3h2M318.5 240v2m3 -2v2M301 253.5h2m-2 3h2M300.5 254v2m3 -2v2M313 259.5h2m-2 3h2M312.5 260v2m3 -2v2M310 273.5h2m-2 3h2M309.5 274v2m3 -2v2M300 272.5h2m-2 3h2M299.5 273v2m3 -2v2M329 276.5h2m-2 3h2M328.5 277v2m3 -2v2M313 287.5h2m-2 3h2M312.5 288v2m3 -2v2M316 293.5h2m-2 3h2M315.5 294v2m3 -2v2M331 303.5h2m-2 3h2M330.5 304v2m3 -2v2M335 306.5h2m-2 3h2M334.5 307v2m3 -2v2M311 307.5h2m-2 3h2M310.5 308v2m3 -2v2M314 310.5h2m-2 3h2M313.5 311v2m3 -2v2M271 332.5h2m-2 3h2M270.5 333v2m3 -2v2M295 323.5h2m-2 3h2M294.5 324v2m3 -2v2M295 333.5h2m-2 3h2M294.5 334v2m3 -2v2M286 337.5h2m-2 3h2M285.5 338v2m3 -2v2M281 339.5h2m-2 3h2M280.5 340v2m3 -2v2M255 335.5h2m-2 3h2M254.5 336v2m3 -2v2M256 343.5h2m-2 3h2M255.5 344v2m3 -2v2M259 342.5h2m-2 3h2M258.5 343v2m3 -2v2M279 345.5h2m-2 3h2M278.5 346v2m3 -2v2M247 348.5h2m-2 3h2M246.5 349v2m3 -2v2M263 346.5h2m-2 3h2M262.5 347v2m3 -2v2M322 259.5h2m-2 3h2M321.5 260v2m3 -2v2M320 238.5h2m-2 3h2M319.5 239v2m3 -2v2M280 325.5h2m-2 3h2M279.5 326v2m3 -2v2M330 266.5h2m-2 3h2M329.5 267v2m3 -2v2M283 274.5h2m-2 3h2M282.5 275v2m3 -2v2M274 327.5h2m-2 3h2M273.5 328v2m3 -2v2M270 321.5h2m-2 3h2M269.5 322v2m3 -2v2M270 339.5h2m-2 3h2M269.5 340v2m3 -2v2M327 297.5h2m-2 3h2M326.5 298v2m3 -2v2M273 341.5h2m-2 3h2M272.5 342v2m3 -2v2M270 363.5h2m-2 3h2M269.5 364v2m3 -2v2M279 270.5h2m-2 3h2M278.5 271v2m3 -2v2M273 318.5h2m-2 3h2M272.5 319v2m3 -2v2M263 354.5h2m-2 3h2M262.5 355v2m3 -2v2M337 243.5h2m-2 3h2M336.5 244v2m3 -2v2M272 348.5h2m-2 3h2M271.5 349v2m3 -2v2M276 325.5h2m-2 3h2M275.5 326v2m3 -2v2M276 356.5h2m-2 3h2M275.5 357v2m3 -2v2" stroke="#86ff7a" stroke-width="1" fill="none" shape-rendering="crispEdges"/>
<path d="M385 156h2v2h-2zM371 199h2v2h-2zM394 268h2v2h-2zM413 372h2v2h-2zM442 382h2v2h-2zM115 367h2v2h-2zM203 395h2v2h-2zM237 230h2v2h-2zM273 259h2v2h-2zM255 297h2v2h-2zM263 300h2v2h-2zM281 308h2v2h-2zM285 313h2v2h-2zM292 261h2v2h-2zM287 253h2v2h-2zM357 197h2v2h-2zM320 240h2v2h-2zM357 251h2v2h-2zM370 313h2v2h-2zM227 369h2v2h-2zM234 365h2v2h-2zM301 333h2v2h-2zM339 328h2v2h-2zM342 329h2v2h-2zM308 347h2v2h-2zM307 351h2v2h-2zM336 369h2v2h-2zM307 373h2v2h-2zM300 369h2v2h-2zM289 387h2v2h-2zM321 391h2v2h-2zM281 354h2v2h-2zM268 358h2v2h-2zM271 359h2v2h-2zM269 369h2v2h-2zM278 360h2v2h-2zM253 362h2v2h-2zM250 365h2v2h-2zM282 375h2v2h-2zM320 247h2v2h-2zM319 240h2v2h-2zM301 254h2v2h-2zM313 260h2v2h-2zM310 274h2v2h-2zM300 273h2v2h-2zM329 277h2v2h-2zM313 288h2v2h-2zM316 294h2v2h-2zM331 304h2v2h-2zM335 307h2v2h-2zM311 308h2v2h-2zM314 311h2v2h-2zM271 333h2v2h-2zM295 324h2v2h-2zM295 334h2v2h-2zM286 338h2v2h-2zM281 340h2v2h-2zM255 336h2v2h-2zM256 344h2v2h-2zM259 343h2v2h-2zM279 346h2v2h-2zM247 349h2v2h-2zM263 347h2v2h-2zM322 260h2v2h-2zM320 239h2v2h-2zM280 326h2v2h-2zM330 267h2v2h-2zM283 275h2v2h-2zM274 328h2v2h-2zM270 322h2v2h-2zM270 340h2v2h-2zM327 298h2v2h-2zM273 342h2v2h-2zM270 364h2v2h-2zM279 271h2v2h-2zM273 319h2v2h-2zM263 355h2v2h-2zM337 244h2v2h-2zM272 349h2v2h-2zM276 326h2v2h-2zM276 357h2v2h-2z" fill="#86ff7a" fill-opacity="0.3" shape-rendering="crispEdges"/>
<path d="M377 217.5h2m-2 3h2M376.5 218v2m3 -2v2M372 429.5h2m-2 3h2M371.5 430v2m3 -2v2M268 452.5h2m-2 3h2M267.5 453v2m3 -2v2M190 387.5h2m-2 3h2M189.5 388v2m3 -2v2M273 272.5h2m-2 3h2M272.5 273v2m3 -2v2M246 297.5h2m-2 3h2M245.5 298v2m3 -2v2M289 287.5h2m-2 3h2M288.5 288v2m3 -2v2M295 258.5h2m-2 3h2M294.5 259v2m3 -2v2M348 223.5h2m-2 3h2M347.5 224v2m3 -2v2M333 222.5h2m-2 3h2M332.5 223v2m3 -2v2M337 230.5h2m-2 3h2M336.5 231v2m3 -2v2M330 240.5h2m-2 3h2M329.5 241v2m3 -2v2M368 266.5h2m-2 3h2M367.5 267v2m3 -2v2M357 307.5h2m-2 3h2M356.5 308v2m3 -2v2M218 317.5h2m-2 3h2M217.5 318v2m3 -2v2M234 344.5h2m-2 3h2M233.5 345v2m3 -2v2M237 363.5h2m-2 3h2M236.5 364v2m3 -2v2M243 325.5h2m-2 3h2M242.5 326v2m3 -2v2M336 314.5h2m-2 3h2M335.5 315v2m3 -2v2M318 332.5h2m-2 3h2M317.5 333v2m3 -2v2M307 339.5h2m-2 3h2M306.5 340v2m3 -2v2M356 362.5h2m-2 3h2M355.5 363v2m3 -2v2M310 367.5h2m-2 3h2M309.5 368v2m3 -2v2M324 365.5h2m-2 3h2M323.5 366v2m3 -2v2M315 378.5h2m-2 3h2M314.5 379v2m3 -2v2M244 392.5h2m-2 3h2M243.5 393v2m3 -2v2M287 412.5h2m-2 3h2M286.5 413v2m3 -2v2M312 397.5h2m-2 3h2M311.5 398v2m3 -2v2M345 406.5h2m-2 3h2M344.5 407v2m3 -2v2M325 412.5h2m-2 3h2M324.5 413v2m3 -2v2M334 412.5h2m-2 3h2M333.5 413v2m3 -2v2M253 352.5h2m-2 3h2M252.5 353v2m3 -2v2M258 354.5h2m-2 3h2M257.5 355v2m3 -2v2M279 356.5h2m-2 3h2M278.5 357v2m3 -2v2M267 359.5h2m-2 3h2M266.5 360v2m3 -2v2M270 363.5h2m-2 3h2M269.5 364v2m3 -2v2M282 361.5h2m-2 3h2M281.5 362v2m3 -2v2M252 366.5h2m-2 3h2M251.5 367v2m3 -2v2M249 374.5h2m-2 3h2M248.5 375v2m3 -2v2M259 377.5h2m-2 3h2M258.5 378v2m3 -2v2M337 244.5h2m-2 3h2M336.5 245v2m3 -2v2M314 277.5h2m-2 3h2M313.5 278v2m3 -2v2M328 284.5h2m-2 3h2M327.5 285v2m3 -2v2M302 282.5h2m-2 3h2M301.5 283v2m3 -2v2M307 296.5h2m-2 3h2M306.5 297v2m3 -2v2M300 306.5h2m-2 3h2M299.5 307v2m3 -2v2M255 324.5h2m-2 3h2M254.5 325v2m3 -2v2M270 322.5h2m-2 3h2M269.5 323v2m3 -2v2M273 322.5h2m-2 3h2M272.5 323v2m3 -2v2M275 318.5h2m-2 3h2M274.5 319v2m3 -2v2M278 317.5h2m-2 3h2M277.5 318v2m3 -2v2M280 316.5h2m-2 3h2M279.5 317v2m3 -2v2M274 328.5h2m-2 3h2M273.5 329v2m3 -2v2M279 331.5h2m-2 3h2M278.5 332v2m3 -2v2M286 315.5h2m-2 3h2M285.5 316v2m3 -2v2M268 339.5h2m-2 3h2M267.5 340v2m3 -2v2M253 338.5h2m-2 3h2M252.5 339v2m3 -2v2M263 342.5h2m-2 3h2M262.5 343v2m3 -2v2M271 344.5h2m-2 3h2M270.5 345v2m3 -2v2M298 335.5h2m-2 3h2M297.5 336v2m3 -2v2M302 279.5h2m-2 3h2M301.5 280v2m3 -2v2M277 270.5h2m-2 3h2M276.5 271v2m3 -2v2M287 305.5h2m-2 3h2M286.5 306v2m3 -2v2M335 226.5h2m-2 3h2M334.5 227v2m3 -2v2M296 337.5h2m-2 3h2M295.5 338v2m3 -2v2M296 361.5h2m-2 3h2M295.5 362v2m3 -2v2M338 271.5h2m-2 3h2M337.5 272v2m3 -2v2M269 352.5h2m-2 3h2M268.5 353v2m3 -2v2M334 272.5h2m-2 3h2M333.5 273v2m3 -2v2M324 244.5h2m-2 3h2M323.5 245v2m3 -2v2M315 237.5h2m-2 3h2M314.5 238v2m3 -2v2M282 352.5h2m-2 3h2M281.5 353v2m3 -2v2M326 244.5h2m-2 3h2M325.5 245v2m3 -2v2M263 354.5h2m-2 3h2M262.5 355v2m3 -2v2M277 265.5h2m-2 3h2M276.5 266v2m3 -2v2M327 240.5h2m-2 3h2M326.5 241v2m3 -2v2M269 334.5h2m-2 3h2M268.5 335v2m3 -2v2M278 340.5h2m-2 3h2M277.5 341v2m3 -2v2" stroke="#90ff70" stroke-width="1" fill="none" shape-rendering="crispEdges"/>
<path d="M377 218h2v2h-2zM372 430h2v2h-2zM268 453h2v2h-2zM190 388h2v2h-2zM273 273h2v2h-2zM246 298h2v2h-2zM289 288h2v2h-2zM295 259h2v2h-2zM348 224h2v2h-2zM333 223h2v2h-2zM337 231h2v2h-2zM330 241h2v2h-2zM368 267h2v2h-2zM357 308h2v2h-2zM218 318h2v2h-2zM234 345h2v2h-2zM237 364h2v2h-2zM243 326h2v2h-2zM336 315h2v2h-2zM318 333h2v2h-2zM307 340h2v2h-2zM356 363h2v2h-2zM310 368h2v2h-2zM324 366h2v2h-2zM315 379h2v2h-2zM244 393h2v2h-2zM287 413h2v2h-2zM312 398h2v2h-2zM345 407h2v2h-2zM325 413h2v2h-2zM334 413h2v2h-2zM253 353h2v2h-2zM258 355h2v2h-2zM279 357h2v2h-2zM267 360h2v2h-2zM270 364h2v2h-2zM282 362h2v2h-2zM252 367h2v2h-2zM249 375h2v2h-2zM259 378h2v2h-2zM337 245h2v2h-2zM314 278h2v2h-2zM328 285h2v2h-2zM302 283h2v2h-2zM307 297h2v2h-2zM300 307h2v2h-2zM255 325h2v2h-2zM270 323h2v2h-2zM273 323h2v2h-2zM275 319h2v2h-2zM278 318h2v2h-2zM280 317h2v2h-2zM274 329h2v2h-2zM279 332h2v2h-2zM286 316h2v2h-2zM268 340h2v2h-2zM253 339h2v2h-2zM263 343h2v2h-2zM271 345h2v2h-2zM298 336h2v2h-2zM302 280h2v2h-2zM277 271h2v2h-2zM287 306h2v2h-2zM335 227h2v2h-2zM296 338h2v2h-2zM296 362h2v2h-2zM338 272h2v2h-2zM269 353h2v2h-2zM334 273h2v2h-2zM324 245h2v2h-2zM315 238h2v2h-2zM282 353h2v2h-2zM326 245h2v2h-2zM263 355h2v2h-2zM277 266h2v2h-2zM327 241h2v2h-2zM269 335h2v2h-2zM278 341h2v2h-2z" fill="#90ff70" fill-opacity="0.3" shape-rendering="crispEdges"/>
<path d="M429 355.5h2m-2 3h2M428.5 356v2m3 -2v2M182 323.5h2m-2 3h2M181.5 324v2m3 -2v2M195 278.5h2m-2 3h2M194.5 279v2m3 -2v2M269 256.5h2m-2 3h2M268.5 257v2m3 -2v2M264 270.5h2m-2 3h2M263.5 271v2m3 -2v2M274 300.5h2m-2 3h2M273.5 301v2m3 -2v2M287 302.5h2m-2 3h2M286.5 303v2m3 -2v2M278 307.5h2m-2 3h2M277.5 308v2m3 -2v2M292 306.5h2m-2 3h2M291.5 307v2m3 -2v2M279 267.5h2m-2 3h2M278.5 268v2m3 -2v2M279 272.5h2m-2 3h2M278.5 273v2m3 -2v2M295 270.5h2m-2 3h2M294.5 271v2m3 -2v2M295 289.5h2m-2 3h2M294.5 290v2m3 -2v2M296 293.5h2m-2 3h2M295.5 294v2m3 -2v2M372 228.5h2m-2 3h2M371.5 229v2m3 -2v2M364 232.5h2m-2 3h2M363.5 233v2m3 -2v2M359 233.5h2m-2 3h2M358.5 234v2m3 -2v2M381 233.5h2m-2 3h2M380.5 234v2m3 -2v2M318 237.5h2m-2 3h2M317.5 238v2m3 -2v2M340 230.5h2m-2 3h2M339.5 231v2m3 -2v2M374 256.5h2m-2 3h2M373.5 257v2m3 -2v2M351 271.5h2m-2 3h2M350.5 272v2m3 -2v2M362 287.5h2m-2 3h2M361.5 288v2m3 -2v2M215 347.5h2m-2 3h2M214.5 348v2m3 -2v2M225 356.5h2m-2 3h2M224.5 357v2m3 -2v2M224 375.5h2m-2 3h2M223.5 376v2m3 -2v2M232 378.5h2m-2 3h2M231.5 379v2m3 -2v2M246 378.5h2m-2 3h2M245.5 379v2m3 -2v2M246 349.5h2m-2 3h2M245.5 350v2m3 -2v2M329 316.5h2m-2 3h2M328.5 317v2m3 -2v2M358 321.5h2m-2 3h2M357.5 322v2m3 -2v2M342 332.5h2m-2 3h2M341.5 333v2m3 -2v2M309 337.5h2m-2 3h2M308.5 338v2m3 -2v2M351 341.5h2m-2 3h2M350.5 342v2m3 -2v2M325 351.5h2m-2 3h2M324.5 352v2m3 -2v2M315 356.5h2m-2 3h2M314.5 357v2m3 -2v2M326 373.5h2m-2 3h2M325.5 374v2m3 -2v2M237 396.5h2m-2 3h2M236.5 397v2m3 -2v2M259 404.5h2m-2 3h2M258.5 405v2m3 -2v2M298 419.5h2m-2 3h2M297.5 420v2m3 -2v2M362 404.5h2m-2 3h2M361.5 405v2m3 -2v2M257 362.5h2m-2 3h2M256.5 363v2m3 -2v2M252 372.5h2m-2 3h2M251.5 373v2m3 -2v2M290 358.5h2m-2 3h2M289.5 359v2m3 -2v2M293 375.5h2m-2 3h2M292.5 376v2m3 -2v2M287 382.5h2m-2 3h2M286.5 383v2m3 -2v2M341 246.5h2m-2 3h2M340.5 247v2m3 -2v2M331 254.5h2m-2 3h2M330.5 255v2m3 -2v2M337 253.5h2m-2 3h2M336.5 254v2m3 -2v2M322 257.5h2m-2 3h2M321.5 258v2m3 -2v2M325 256.5h2m-2 3h2M324.5 257v2m3 -2v2M317 263.5h2m-2 3h2M316.5 264v2m3 -2v2M305 267.5h2m-2 3h2M304.5 268v2m3 -2v2M307 268.5h2m-2 3h2M306.5 269v2m3 -2v2M315 272.5h2m-2 3h2M314.5 273v2m3 -2v2M327 293.5h2m-2 3h2M326.5 294v2m3 -2v2M322 307.5h2m-2 3h2M321.5 308v2m3 -2v2M251 317.5h2m-2 3h2M250.5 318v2m3 -2v2M251 320.5h2m-2 3h2M250.5 321v2m3 -2v2M255 320.5h2m-2 3h2M254.5 321v2m3 -2v2M265 316.5h2m-2 3h2M264.5 317v2m3 -2v2M276 320.5h2m-2 3h2M275.5 321v2m3 -2v2M271 330.5h2m-2 3h2M270.5 331v2m3 -2v2M278 325.5h2m-2 3h2M277.5 326v2m3 -2v2M259 336.5h2m-2 3h2M258.5 337v2m3 -2v2M256 338.5h2m-2 3h2M255.5 339v2m3 -2v2M281 344.5h2m-2 3h2M280.5 345v2m3 -2v2M280 350.5h2m-2 3h2M279.5 351v2m3 -2v2M325 245.5h2m-2 3h2M324.5 246v2m3 -2v2M310 277.5h2m-2 3h2M309.5 278v2m3 -2v2M348 268.5h2m-2 3h2M347.5 269v2m3 -2v2M289 303.5h2m-2 3h2M288.5 304v2m3 -2v2M348 239.5h2m-2 3h2M347.5 240v2m3 -2v2M266 338.5h2m-2 3h2M265.5 339v2m3 -2v2M269 367.5h2m-2 3h2M268.5 368v2m3 -2v2M324 232.5h2m-2 3h2M323.5 233v2m3 -2v2M327 240.5h2m-2 3h2M326.5 241v2m3 -2v2M318 311.5h2m-2 3h2M317.5 312v2m3 -2v2M277 328.5h2m-2 3h2M276.5 329v2m3 -2v2M263 329.5h2m-2 3h2M262.5 330v2m3 -2v2M267 349.5h2m-2 3h2M266.5 350v2m3 -2v2M329 255.5h2m-2 3h2M328.5 256v2m3 -2v2M320 239.5h2m-2 3h2M319.5 240v2m3 -2v2" stroke="#99ff66" stroke-width="1" fill="none" shape-rendering="crispEdges"/>
<path d="M429 356h2v2h-2zM182 324h2v2h-2zM195 279h2v2h-2zM269 257h2v2h-2zM264 271h2v2h-2zM274 301h2v2h-2zM287 303h2v2h-2zM278 308h2v2h-2zM292 307h2v2h-2zM279 268h2v2h-2zM279 273h2v2h-2zM295 271h2v2h-2zM295 290h2v2h-2zM296 294h2v2h-2zM372 229h2v2h-2zM364 233h2v2h-2zM359 234h2v2h-2zM381 234h2v2h-2zM318 238h2v2h-2zM340 231h2v2h-2zM374 257h2v2h-2zM351 272h2v2h-2zM362 288h2v2h-2zM215 348h2v2h-2zM225 357h2v2h-2zM224 376h2v2h-2zM232 379h2v2h-2zM246 379h2v2h-2zM246 350h2v2h-2zM329 317h2v2h-2zM358 322h2v2h-2zM342 333h2v2h-2zM309 338h2v2h-2zM351 342h2v2h-2zM325 352h2v2h-2zM315 357h2v2h-2zM326 374h2v2h-2zM237 397h2v2h-2zM259 405h2v2h-2zM298 420h2v2h-2zM362 405h2v2h-2zM257 363h2v2h-2zM252 373h2v2h-2zM290 359h2v2h-2zM293 376h2v2h-2zM287 383h2v2h-2zM341 247h2v2h-2zM331 255h2v2h-2zM337 254h2v2h-2zM322 258h2v2h-2zM325 257h2v2h-2zM317 264h2v2h-2zM305 268h2v2h-2zM307 269h2v2h-2zM315 273h2v2h-2zM327 294h2v2h-2zM322 308h2v2h-2zM251 318h2v2h-2zM251 321h2v2h-2zM255 321h2v2h-2zM265 317h2v2h-2zM276 321h2v2h-2zM271 331h2v2h-2zM278 326h2v2h-2zM259 337h2v2h-2zM256 339h2v2h-2zM281 345h2v2h-2zM280 351h2v2h-2zM325 246h2v2h-2zM310 278h2v2h-2zM348 269h2v2h-2zM289 304h2v2h-2zM348 240h2v2h-2zM266 339h2v2h-2zM269 368h2v2h-2zM324 233h2v2h-2zM327 241h2v2h-2zM318 312h2v2h-2zM277 329h2v2h-2zM263 330h2v2h-2zM267 350h2v2h-2zM329 256h2v2h-2zM320 240h2v2h-2z" fill="#99ff66" fill-opacity="0.3" shape-rendering="crispEdges"/>
<path d="M394 377.5h2m-2 3h2M393.5 378v2m3 -2v2M203 411.5h2m-2 3h2M202.5 412v2m3 -2v2M159 428.5h2m-2 3h2M158.5 429v2m3 -2v2M148 466.5h2m-2 3h2M147.5 467v2m3 -2v2M139 295.5h2m-2 3h2M138.5 296v2m3 -2v2M243 210.5h2m-2 3h2M242.5 211v2m3 -2v2M278 243.5h2m-2 3h2M277.5 244v2m3 -2v2M266 280.5h2m-2 3h2M265.5 281v2m3 -2v2M262 288.5h2m-2 3h2M261.5 289v2m3 -2v2M262 293.5h2m-2 3h2M261.5 294v2m3 -2v2M266 303.5h2m-2 3h2M265.5 304v2m3 -2v2M250 308.5h2m-2 3h2M249.5 309v2m3 -2v2M229 310.5h2m-2 3h2M228.5 311v2m3 -2v2M280 294.5h2m-2 3h2M279.5 295v2m3 -2v2M294 300.5h2m-2 3h2M293.5 301v2m3 -2v2M288 267.5h2m-2 3h2M287.5 268v2m3 -2v2M319 200.5h2m-2 3h2M318.5 201v2m3 -2v2M312 226.5h2m-2 3h2M311.5 227v2m3 -2v2M333 227.5h2m-2 3h2M332.5 228v2m3 -2v2M323 237.5h2m-2 3h2M322.5 238v2m3 -2v2M333 236.5h2m-2 3h2M332.5 237v2m3 -2v2M347 237.5h2m-2 3h2M346.5 238v2m3 -2v2M351 312.5h2m-2 3h2M350.5 313v2m3 -2v2M217 339.5h2m-2 3h2M216.5 340v2m3 -2v2M220 371.5h2m-2 3h2M219.5 372v2m3 -2v2M244 330.5h2m-2 3h2M243.5 331v2m3 -2v2M245 336.5h2m-2 3h2M244.5 337v2m3 -2v2M243 343.5h2m-2 3h2M242.5 344v2m3 -2v2M247 345.5h2m-2 3h2M246.5 346v2m3 -2v2M320 324.5h2m-2 3h2M319.5 325v2m3 -2v2M311 335.5h2m-2 3h2M310.5 336v2m3 -2v2M322 350.5h2m-2 3h2M321.5 351v2m3 -2v2M356 370.5h2m-2 3h2M355.5 371v2m3 -2v2M333 372.5h2m-2 3h2M332.5 373v2m3 -2v2M305 380.5h2m-2 3h2M304.5 381v2m3 -2v2M259 399.5h2m-2 3h2M258.5 400v2m3 -2v2M284 384.5h2m-2 3h2M283.5 385v2m3 -2v2M333 399.5h2m-2 3h2M332.5 400v2m3 -2v2M265 353.5h2m-2 3h2M264.5 354v2m3 -2v2M267 351.5h2m-2 3h2M266.5 352v2m3 -2v2M292 354.5h2m-2 3h2M291.5 355v2m3 -2v2M270 366.5h2m-2 3h2M269.5 367v2m3 -2v2M279 364.5h2m-2 3h2M278.5 365v2m3 -2v2M262 358.5h2m-2 3h2M261.5 359v2m3 -2v2M284 371.5h2m-2 3h2M283.5 372v2m3 -2v2M295 360.5h2m-2 3h2M294.5 361v2m3 -2v2M275 382.5h2m-2 3h2M274.5 383v2m3 -2v2M307 247.5h2m-2 3h2M306.5 248v2m3 -2v2M326 278.5h2m-2 3h2M325.5 279v2m3 -2v2M316 285.5h2m-2 3h2M315.5 286v2m3 -2v2M318 294.5h2m-2 3h2M317.5 295v2m3 -2v2M303 299.5h2m-2 3h2M302.5 300v2m3 -2v2M349 312.5h2m-2 3h2M348.5 313v2m3 -2v2M264 327.5h2m-2 3h2M263.5 328v2m3 -2v2M273 333.5h2m-2 3h2M272.5 334v2m3 -2v2M290 328.5h2m-2 3h2M289.5 329v2m3 -2v2M273 339.5h2m-2 3h2M272.5 340v2m3 -2v2M257 333.5h2m-2 3h2M256.5 334v2m3 -2v2M298 337.5h2m-2 3h2M297.5 338v2m3 -2v2M333 273.5h2m-2 3h2M332.5 274v2m3 -2v2M281 260.5h2m-2 3h2M280.5 261v2m3 -2v2M307 253.5h2m-2 3h2M306.5 254v2m3 -2v2M276 316.5h2m-2 3h2M275.5 317v2m3 -2v2M319 274.5h2m-2 3h2M318.5 275v2m3 -2v2M282 353.5h2m-2 3h2M281.5 354v2m3 -2v2M282 268.5h2m-2 3h2M281.5 269v2m3 -2v2M331 279.5h2m-2 3h2M330.5 280v2m3 -2v2M266 353.5h2m-2 3h2M265.5 354v2m3 -2v2M272 341.5h2m-2 3h2M271.5 342v2m3 -2v2M291 291.5h2m-2 3h2M290.5 292v2m3 -2v2" stroke="#a0ff60" stroke-width="1" fill="none" shape-rendering="crispEdges"/>
<path d="M394 378h2v2h-2zM203 412h2v2h-2zM159 429h2v2h-2zM148 467h2v2h-2zM139 296h2v2h-2zM243 211h2v2h-2zM278 244h2v2h-2zM266 281h2v2h-2zM262 289h2v2h-2zM262 294h2v2h-2zM266 304h2v2h-2zM250 309h2v2h-2zM229 311h2v2h-2zM280 295h2v2h-2zM294 301h2v2h-2zM288 268h2v2h-2zM319 201h2v2h-2zM312 227h2v2h-2zM333 228h2v2h-2zM323 238h2v2h-2zM333 237h2v2h-2zM347 238h2v2h-2zM351 313h2v2h-2zM217 340h2v2h-2zM220 372h2v2h-2zM244 331h2v2h-2zM245 337h2v2h-2zM243 344h2v2h-2zM247 346h2v2h-2zM320 325h2v2h-2zM311 336h2v2h-2zM322 351h2v2h-2zM356 371h2v2h-2zM333 373h2v2h-2zM305 381h2v2h-2zM259 400h2v2h-2zM284 385h2v2h-2zM333 400h2v2h-2zM265 354h2v2h-2zM267 352h2v2h-2zM292 355h2v2h-2zM270 367h2v2h-2zM279 365h2v2h-2zM262 359h2v2h-2zM284 372h2v2h-2zM295 361h2v2h-2zM275 383h2v2h-2zM307 248h2v2h-2zM326 279h2v2h-2zM316 286h2v2h-2zM318 295h2v2h-2zM303 300h2v2h-2zM349 313h2v2h-2zM264 328h2v2h-2zM273 334h2v2h-2zM290 329h2v2h-2zM273 340h2v2h-2zM257 334h2v2h-2zM298 338h2v2h-2zM333 274h2v2h-2zM281 261h2v2h-2zM307 254h2v2h-2zM276 317h2v2h-2zM319 275h2v2h-2zM282 354h2v2h-2zM282 269h2v2h-2zM331 280h2v2h-2zM266 354h2v2h-2zM272 342h2v2h-2zM291 292h2v2h-2z" fill="#a0ff60" fill-opacity="0.3" shape-rendering="crispEdges"/>
<path d="M293 166.5h2m-2 3h2M292.5 167v2m3 -2v2M464 257.5h2m-2 3h2M463.5 258v2m3 -2v2M429 393.5h2m-2 3h2M428.5 394v2m3 -2v2M447 399.5h2m-2 3h2M446.5 400v2m3 -2v2M166 365.5h2m-2 3h2M165.5 366v2m3 -2v2M208 300.5h2m-2 3h2M207.5 301v2m3 -2v2M200 283.5h2m-2 3h2M199.5 284v2m3 -2v2M226 266.5h2m-2 3h2M225.5 267v2m3 -2v2M278 250.5h2m-2 3h2M277.5 251v2m3 -2v2M373 222.5h2m-2 3h2M372.5 223v2m3 -2v2M342 233.5h2m-2 3h2M341.5 234v2m3 -2v2M386 298.5h2m-2 3h2M385.5 299v2m3 -2v2M232 376.5h2m-2 3h2M231.5 377v2m3 -2v2M238 346.5h2m-2 3h2M237.5 347v2m3 -2v2M236 352.5h2m-2 3h2M235.5 353v2m3 -2v2M311 323.5h2m-2 3h2M310.5 324v2m3 -2v2M349 332.5h2m-2 3h2M348.5 333v2m3 -2v2M355 329.5h2m-2 3h2M354.5 330v2m3 -2v2M305 344.5h2m-2 3h2M304.5 345v2m3 -2v2M330 344.5h2m-2 3h2M329.5 345v2m3 -2v2M301 364.5h2m-2 3h2M300.5 365v2m3 -2v2M317 363.5h2m-2 3h2M316.5 364v2m3 -2v2M251 353.5h2m-2 3h2M250.5 354v2m3 -2v2M286 352.5h2m-2 3h2M285.5 353v2m3 -2v2M273 361.5h2m-2 3h2M272.5 362v2m3 -2v2M267 378.5h2m-2 3h2M266.5 379v2m3 -2v2M324 253.5h2m-2 3h2M323.5 254v2m3 -2v2M327 255.5h2m-2 3h2M326.5 256v2m3 -2v2M339 267.5h2m-2 3h2M338.5 268v2m3 -2v2M323 291.5h2m-2 3h2M322.5 292v2m3 -2v2M324 294.5h2m-2 3h2M323.5 295v2m3 -2v2M317 309.5h2m-2 3h2M316.5 310v2m3 -2v2M255 313.5h2m-2 3h2M254.5 314v2m3 -2v2M274 326.5h2m-2 3h2M273.5 327v2m3 -2v2M283 332.5h2m-2 3h2M282.5 333v2m3 -2v2M287 331.5h2m-2 3h2M286.5 332v2m3 -2v2M266 344.5h2m-2 3h2M265.5 345v2m3 -2v2M256 346.5h2m-2 3h2M255.5 347v2m3 -2v2M290 346.5h2m-2 3h2M289.5 347v2m3 -2v2M283 349.5h2m-2 3h2M282.5 350v2m3 -2v2M297 318.5h2m-2 3h2M296.5 319v2m3 -2v2M273 378.5h2m-2 3h2M272.5 379v2m3 -2v2M273 363.5h2m-2 3h2M272.5 364v2m3 -2v2M319 276.5h2m-2 3h2M318.5 277v2m3 -2v2M291 355.5h2m-2 3h2M290.5 356v2m3 -2v2M278 367.5h2m-2 3h2M277.5 368v2m3 -2v2M285 303.5h2m-2 3h2M284.5 304v2m3 -2v2M321 313.5h2m-2 3h2M320.5 314v2m3 -2v2M342 226.5h2m-2 3h2M341.5 227v2m3 -2v2M324 267.5h2m-2 3h2M323.5 268v2m3 -2v2M262 336.5h2m-2 3h2M261.5 337v2m3 -2v2M274 356.5h2m-2 3h2M273.5 357v2m3 -2v2M337 317.5h2m-2 3h2M336.5 318v2m3 -2v2M303 279.5h2m-2 3h2M302.5 280v2m3 -2v2M270 332.5h2m-2 3h2M269.5 333v2m3 -2v2M281 260.5h2m-2 3h2M280.5 261v2m3 -2v2M343 250.5h2m-2 3h2M342.5 251v2m3 -2v2" stroke="#a6ff5a" stroke-width="1" fill="none" shape-rendering="crispEdges"/>
<path d="M293 167h2v2h-2zM464 258h2v2h-2zM429 394h2v2h-2zM447 400h2v2h-2zM166 366h2v2h-2zM208 301h2v2h-2zM200 284h2v2h-2zM226 267h2v2h-2zM278 251h2v2h-2zM373 223h2v2h-2zM342 234h2v2h-2zM386 299h2v2h-2zM232 377h2v2h-2zM238 347h2v2h-2zM236 353h2v2h-2zM311 324h2v2h-2zM349 333h2v2h-2zM355 330h2v2h-2zM305 345h2v2h-2zM330 345h2v2h-2zM301 365h2v2h-2zM317 364h2v2h-2zM251 354h2v2h-2zM286 353h2v2h-2zM273 362h2v2h-2zM267 379h2v2h-2zM324 254h2v2h-2zM327 256h2v2h-2zM339 268h2v2h-2zM323 292h2v2h-2zM324 295h2v2h-2zM317 310h2v2h-2zM255 314h2v2h-2zM274 327h2v2h-2zM283 333h2v2h-2zM287 332h2v2h-2zM266 345h2v2h-2zM256 347h2v2h-2zM290 347h2v2h-2zM283 350h2v2h-2zM297 319h2v2h-2zM273 379h2v2h-2zM273 364h2v2h-2zM319 277h2v2h-2zM291 356h2v2h-2zM278 368h2v2h-2zM285 304h2v2h-2zM321 314h2v2h-2zM342 227h2v2h-2zM324 268h2v2h-2zM262 337h2v2h-2zM274 357h2v2h-2zM337 318h2v2h-2zM303 280h2v2h-2zM270 333h2v2h-2zM281 261h2v2h-2zM343 251h2v2h-2z" fill="#a6ff5a" fill-opacity="0.3" shape-rendering="crispEdges"/>
<path d="M402 236.5h2m-2 3h2M401.5 237v2m3 -2v2M427 270.5h2m-2 3h2M426.5 271v2m3 -2v2M465 272.5h2m-2 3h2M464.5 273v2m3 -2v2M459 389.5h2m-2 3h2M458.5 390v2m3 -2v2M479 436.5h2m-2 3h2M478.5 437v2m3 -2v2M233 429.5h2m-2 3h2M232.5 430v2m3 -2v2M193 402.5h2m-2 3h2M192.5 403v2m3 -2v2M86 314.5h2m-2 3h2M85.5 315v2m3 -2v2M198 373.5h2m-2 3h2M197.5 374v2m3 -2v2M207 373.5h2m-2 3h2M206.5 374v2m3 -2v2M85 233.5h2m-2 3h2M84.5 234v2m3 -2v2M201 254.5h2m-2 3h2M200.5 255v2m3 -2v2M157 277.5h2m-2 3h2M156.5 278v2m3 -2v2M251 245.5h2m-2 3h2M250.5 246v2m3 -2v2M267 266.5h2m-2 3h2M266.5 267v2m3 -2v2M263 304.5h2m-2 3h2M262.5 305v2m3 -2v2M280 288.5h2m-2 3h2M279.5 289v2m3 -2v2M291 250.5h2m-2 3h2M290.5 251v2m3 -2v2M296 265.5h2m-2 3h2M295.5 266v2m3 -2v2M357 240.5h2m-2 3h2M356.5 241v2m3 -2v2M319 232.5h2m-2 3h2M318.5 233v2m3 -2v2M305 236.5h2m-2 3h2M304.5 237v2m3 -2v2M329 230.5h2m-2 3h2M328.5 231v2m3 -2v2M348 228.5h2m-2 3h2M347.5 229v2m3 -2v2M348 239.5h2m-2 3h2M347.5 240v2m3 -2v2M363 312.5h2m-2 3h2M362.5 313v2m3 -2v2M238 343.5h2m-2 3h2M237.5 344v2m3 -2v2M236 356.5h2m-2 3h2M235.5 357v2m3 -2v2M246 338.5h2m-2 3h2M245.5 339v2m3 -2v2M305 315.5h2m-2 3h2M304.5 316v2m3 -2v2M322 315.5h2m-2 3h2M321.5 316v2m3 -2v2M328 320.5h2m-2 3h2M327.5 321v2m3 -2v2M322 322.5h2m-2 3h2M321.5 323v2m3 -2v2M300 325.5h2m-2 3h2M299.5 326v2m3 -2v2M301 353.5h2m-2 3h2M300.5 354v2m3 -2v2M319 371.5h2m-2 3h2M318.5 372v2m3 -2v2M322 373.5h2m-2 3h2M321.5 374v2m3 -2v2M341 386.5h2m-2 3h2M340.5 387v2m3 -2v2M375 375.5h2m-2 3h2M374.5 376v2m3 -2v2M252 391.5h2m-2 3h2M251.5 392v2m3 -2v2M297 394.5h2m-2 3h2M296.5 395v2m3 -2v2M272 351.5h2m-2 3h2M271.5 352v2m3 -2v2M273 368.5h2m-2 3h2M272.5 369v2m3 -2v2M260 359.5h2m-2 3h2M259.5 360v2m3 -2v2M256 364.5h2m-2 3h2M255.5 365v2m3 -2v2M268 373.5h2m-2 3h2M267.5 374v2m3 -2v2M284 368.5h2m-2 3h2M283.5 369v2m3 -2v2M292 358.5h2m-2 3h2M291.5 359v2m3 -2v2M295 357.5h2m-2 3h2M294.5 358v2m3 -2v2M310 251.5h2m-2 3h2M309.5 252v2m3 -2v2M330 260.5h2m-2 3h2M329.5 261v2m3 -2v2M338 261.5h2m-2 3h2M337.5 262v2m3 -2v2M301 267.5h2m-2 3h2M300.5 268v2m3 -2v2M321 273.5h2m-2 3h2M320.5 274v2m3 -2v2M338 272.5h2m-2 3h2M337.5 273v2m3 -2v2M309 288.5h2m-2 3h2M308.5 289v2m3 -2v2M263 318.5h2m-2 3h2M262.5 319v2m3 -2v2M289 317.5h2m-2 3h2M288.5 318v2m3 -2v2M285 326.5h2m-2 3h2M284.5 327v2m3 -2v2M254 350.5h2m-2 3h2M253.5 351v2m3 -2v2M294 316.5h2m-2 3h2M293.5 317v2m3 -2v2M276 312.5h2m-2 3h2M275.5 313v2m3 -2v2M281 332.5h2m-2 3h2M280.5 333v2m3 -2v2M273 310.5h2m-2 3h2M272.5 311v2m3 -2v2M302 271.5h2m-2 3h2M301.5 272v2m3 -2v2M282 325.5h2m-2 3h2M281.5 326v2m3 -2v2M326 253.5h2m-2 3h2M325.5 254v2m3 -2v2M288 321.5h2m-2 3h2M287.5 322v2m3 -2v2M281 343.5h2m-2 3h2M280.5 344v2m3 -2v2M278 266.5h2m-2 3h2M277.5 267v2m3 -2v2M270 339.5h2m-2 3h2M269.5 340v2m3 -2v2M332 226.5h2m-2 3h2M331.5 227v2m3 -2v2" stroke="#b0ff50" stroke-width="1" fill="none" shape-rendering="crispEdges"/>
<path d="M402 237h2v2h-2zM427 271h2v2h-2zM465 273h2v2h-2zM459 390h2v2h-2zM479 437h2v2h-2zM233 430h2v2h-2zM193 403h2v2h-2zM86 315h2v2h-2zM198 374h2v2h-2zM207 374h2v2h-2zM85 234h2v2h-2zM201 255h2v2h-2zM157 278h2v2h-2zM251 246h2v2h-2zM267 267h2v2h-2zM263 305h2v2h-2zM280 289h2v2h-2zM291 251h2v2h-2zM296 266h2v2h-2zM357 241h2v2h-2zM319 233h2v2h-2zM305 237h2v2h-2zM329 231h2v2h-2zM348 229h2v2h-2zM348 240h2v2h-2zM363 313h2v2h-2zM238 344h2v2h-2zM236 357h2v2h-2zM246 339h2v2h-2zM305 316h2v2h-2zM322 316h2v2h-2zM328 321h2v2h-2zM322 323h2v2h-2zM300 326h2v2h-2zM301 354h2v2h-2zM319 372h2v2h-2zM322 374h2v2h-2zM341 387h2v2h-2zM375 376h2v2h-2zM252 392h2v2h-2zM297 395h2v2h-2zM272 352h2v2h-2zM273 369h2v2h-2zM260 360h2v2h-2zM256 365h2v2h-2zM268 374h2v2h-2zM284 369h2v2h-2zM292 359h2v2h-2zM295 358h2v2h-2zM310 252h2v2h-2zM330 261h2v2h-2zM338 262h2v2h-2zM301 268h2v2h-2zM321 274h2v2h-2zM338 273h2v2h-2zM309 289h2v2h-2zM263 319h2v2h-2zM289 318h2v2h-2zM285 327h2v2h-2zM254 351h2v2h-2zM294 317h2v2h-2zM276 313h2v2h-2zM281 333h2v2h-2zM273 311h2v2h-2zM302 272h2v2h-2zM282 326h2v2h-2zM326 254h2v2h-2zM288 322h2v2h-2zM281 344h2v2h-2zM278 267h2v2h-2zM270 340h2v2h-2zM332 227h2v2h-2z" fill="#b0ff50" fill-opacity="0.3" shape-rendering="crispEdges"/>
<path d="M333 130.5h2m-2 3h2M332.5 131v2m3 -2v2M403 381.5h2m-2 3h2M402.5 382v2m3 -2v2M320 428.5h2m-2 3h2M319.5 429v2m3 -2v2M197 432.5h2m-2 3h2M196.5 433v2m3 -2v2M191 347.5h2m-2 3h2M190.5 348v2m3 -2v2M232 272.5h2m-2 3h2M231.5 273v2m3 -2v2M289 307.5h2m-2 3h2M288.5 308v2m3 -2v2M281 266.5h2m-2 3h2M280.5 267v2m3 -2v2M285 264.5h2m-2 3h2M284.5 265v2m3 -2v2M373 292.5h2m-2 3h2M372.5 293v2m3 -2v2M358 312.5h2m-2 3h2M357.5 313v2m3 -2v2M213 362.5h2m-2 3h2M212.5 363v2m3 -2v2M242 355.5h2m-2 3h2M241.5 356v2m3 -2v2M243 360.5h2m-2 3h2M242.5 361v2m3 -2v2M240 364.5h2m-2 3h2M239.5 365v2m3 -2v2M301 329.5h2m-2 3h2M300.5 330v2m3 -2v2M300 336.5h2m-2 3h2M299.5 337v2m3 -2v2M300 354.5h2m-2 3h2M299.5 355v2m3 -2v2M318 407.5h2m-2 3h2M317.5 408v2m3 -2v2M315 407.5h2m-2 3h2M314.5 408v2m3 -2v2M294 371.5h2m-2 3h2M293.5 372v2m3 -2v2M327 244.5h2m-2 3h2M326.5 245v2m3 -2v2M328 269.5h2m-2 3h2M327.5 270v2m3 -2v2M346 264.5h2m-2 3h2M345.5 265v2m3 -2v2M321 276.5h2m-2 3h2M320.5 277v2m3 -2v2M335 282.5h2m-2 3h2M334.5 283v2m3 -2v2M285 320.5h2m-2 3h2M284.5 321v2m3 -2v2M270 336.5h2m-2 3h2M269.5 337v2m3 -2v2M266 333.5h2m-2 3h2M265.5 334v2m3 -2v2M268 344.5h2m-2 3h2M267.5 345v2m3 -2v2M293 343.5h2m-2 3h2M292.5 344v2m3 -2v2M270 350.5h2m-2 3h2M269.5 351v2m3 -2v2M265 350.5h2m-2 3h2M264.5 351v2m3 -2v2M261 351.5h2m-2 3h2M260.5 352v2m3 -2v2M284 349.5h2m-2 3h2M283.5 350v2m3 -2v2M299 334.5h2m-2 3h2M298.5 335v2m3 -2v2M303 375.5h2m-2 3h2M302.5 376v2m3 -2v2M295 362.5h2m-2 3h2M294.5 363v2m3 -2v2M281 334.5h2m-2 3h2M280.5 335v2m3 -2v2M272 336.5h2m-2 3h2M271.5 337v2m3 -2v2M327 274.5h2m-2 3h2M326.5 275v2m3 -2v2M294 320.5h2m-2 3h2M293.5 321v2m3 -2v2M264 360.5h2m-2 3h2M263.5 361v2m3 -2v2" stroke="#b9ff46" stroke-width="1" fill="none" shape-rendering="crispEdges"/>
<path d="M333 131h2v2h-2zM403 382h2v2h-2zM320 429h2v2h-2zM197 433h2v2h-2zM191 348h2v2h-2zM232 273h2v2h-2zM289 308h2v2h-2zM281 267h2v2h-2zM285 265h2v2h-2zM373 293h2v2h-2zM358 313h2v2h-2zM213 363h2v2h-2zM242 356h2v2h-2zM243 361h2v2h-2zM240 365h2v2h-2zM301 330h2v2h-2zM300 337h2v2h-2zM300 355h2v2h-2zM318 408h2v2h-2zM315 408h2v2h-2zM294 372h2v2h-2zM327 245h2v2h-2zM328 270h2v2h-2zM346 265h2v2h-2zM321 277h2v2h-2zM335 283h2v2h-2zM285 321h2v2h-2zM270 337h2v2h-2zM266 334h2v2h-2zM268 345h2v2h-2zM293 344h2v2h-2zM270 351h2v2h-2zM265 351h2v2h-2zM261 352h2v2h-2zM284 350h2v2h-2zM299 335h2v2h-2zM303 376h2v2h-2zM295 363h2v2h-2zM281 335h2v2h-2zM272 337h2v2h-2zM327 275h2v2h-2zM294 321h2v2h-2zM264 361h2v2h-2z" fill="#b9ff46" fill-opacity="0.3" shape-rendering="crispEdges"/>
<path d="M307 449.5h2m-2 3h2M306.5 450v2m3 -2v2M273 280.5h2m-2 3h2M272.5 281v2m3 -2v2M360 205.5h2m-2 3h2M359.5 206v2m3 -2v2M307 208.5h2m-2 3h2M306.5 209v2m3 -2v2M343 215.5h2m-2 3h2M342.5 216v2m3 -2v2M357 255.5h2m-2 3h2M356.5 256v2m3 -2v2M351 259.5h2m-2 3h2M350.5 260v2m3 -2v2M348 299.5h2m-2 3h2M347.5 300v2m3 -2v2M215 314.5h2m-2 3h2M214.5 315v2m3 -2v2M211 359.5h2m-2 3h2M210.5 360v2m3 -2v2M323 380.5h2m-2 3h2M322.5 381v2m3 -2v2M314 409.5h2m-2 3h2M313.5 410v2m3 -2v2M278 352.5h2m-2 3h2M277.5 353v2m3 -2v2M252 370.5h2m-2 3h2M251.5 371v2m3 -2v2M270 381.5h2m-2 3h2M269.5 382v2m3 -2v2M286 366.5h2m-2 3h2M285.5 367v2m3 -2v2M297 365.5h2m-2 3h2M296.5 366v2m3 -2v2M309 254.5h2m-2 3h2M308.5 255v2m3 -2v2M305 260.5h2m-2 3h2M304.5 261v2m3 -2v2M345 263.5h2m-2 3h2M344.5 264v2m3 -2v2M334 270.5h2m-2 3h2M333.5 271v2m3 -2v2M301 279.5h2m-2 3h2M300.5 280v2m3 -2v2M317 302.5h2m-2 3h2M316.5 303v2m3 -2v2M282 325.5h2m-2 3h2M281.5 326v2m3 -2v2M289 320.5h2m-2 3h2M288.5 321v2m3 -2v2M292 338.5h2m-2 3h2M291.5 339v2m3 -2v2M277 340.5h2m-2 3h2M276.5 341v2m3 -2v2M250 342.5h2m-2 3h2M249.5 343v2m3 -2v2M287 346.5h2m-2 3h2M286.5 347v2m3 -2v2" stroke="#d3ff2d" stroke-width="1" fill="none" shape-rendering="crispEdges"/>
<path d="M307 450h2v2h-2zM273 281h2v2h-2zM360 206h2v2h-2zM307 209h2v2h-2zM343 216h2v2h-2zM357 256h2v2h-2zM351 260h2v2h-2zM348 300h2v2h-2zM215 315h2v2h-2zM211 360h2v2h-2zM323 381h2v2h-2zM314 410h2v2h-2zM278 353h2v2h-2zM252 371h2v2h-2zM270 382h2v2h-2zM286 367h2v2h-2zM297 366h2v2h-2zM309 255h2v2h-2zM305 261h2v2h-2zM345 264h2v2h-2zM334 271h2v2h-2zM301 280h2v2h-2zM317 303h2v2h-2zM282 326h2v2h-2zM289 321h2v2h-2zM292 339h2v2h-2zM277 341h2v2h-2zM250 343h2v2h-2zM287 347h2v2h-2z" fill="#d3ff2d" fill-opacity="0.3" shape-rendering="crispEdges"/>
<path d="M126.5 314.5h12v9h6l-12 25l-12 -25h6z" fill="none" stroke="#e2e2e2" stroke-width="1"/>
<path d="M292.5 314.5h12v9h6l-12 25l-12 -25h6z" fill="none" stroke="#e2e2e2" stroke-width="1"/>
<path d="M458.5 314.5h12v9h6l-12 25l-12 -25h6z" fill="none" stroke="#e2e2e2" stroke-width="1"/>
<text class="m" x="594.6" y="71.3">Num of Sources           910</text>
<text class="m" x="594.6" y="85.3">Min Freq, kHz           3200</text>
<text class="m" x="594.6" y="99.3">Max Freq, kHz           3800</text>
<text class="m" x="594.6" y="113.3">Min Range, km            200</text>
<text class="m" x="594.6" y="127.3">Max Range, km            290</text>
<text class="m" x="594.6" y="141.3">Max Amp, dB               80</text>
<text class="m" x="594.6" y="155.3">Max SNR Amp, dB           60</text>
<text class="m" x="594.6" y="169.3">Min SNR Amp, dB            9</text>
<text class="m" x="594.6" y="183.3">Avg SNR Amp, dB           27</text>
<text class="m" x="594.6" y="197.3">Max RMS Err, deg        41.0</text>
<text class="m" x="594.6" y="211.3">Min RMS Err, deg         0.0</text>
<text class="m" x="594.6" y="225.3">Avg RMS Err, deg         8.1</text>
<text class="m" x="594.6" y="239.3">Doppler Res, Hz       0.3906</text>
<text class="m" x="594.6" y="253.3">CIT, sec                2.56</text>
<text class="m" x="594.6" y="267.3">Num of CITs                5</text>
<text class="m" x="594.6" y="281.3">Polarization          O-mode</text>
<text class="m" x="594.6" y="295.3">Center of Sources, deg:</text>
<text class="m" x="594.6" y="309.3">          Zenith         1.7</text>
<text class="m" x="594.6" y="323.3">          Azimuth        315</text>
<text class="m" x="719.5" y="323.3" dy="2" font-size="7">&#8630;</text>
<defs><linearGradient id="cb" x1="0" y1="0" x2="0" y2="1"><stop offset="0" stop-color="#0000c8"/><stop offset="0.05" stop-color="#0000ff"/><stop offset="0.34" stop-color="#00ffff"/><stop offset="0.5" stop-color="#80ff80"/><stop offset="0.66" stop-color="#ffff00"/><stop offset="0.91" stop-color="#ff0000"/><stop offset="1" stop-color="#c80000"/></linearGradient></defs>
<rect x="593" y="341" width="15" height="242" fill="url(#cb)"/>
<rect x="608" y="341" width="1" height="242" fill="#000"/>
<path d="M608 341.5 h7M608 345.5 h7M608 355.5 h7M608 365.5 h7M608 374.5 h7M608 384.5 h7M608 394.5 h7M608 403.5 h7M608 413.5 h7M608 423.5 h7M608 432.5 h7M608 442.5 h7M608 452.5 h7M608 462.5 h7M608 471.5 h7M608 481.5 h7M608 491.5 h7M608 500.5 h7M608 510.5 h7M608 520.5 h7M608 529.5 h7M608 539.5 h7M608 549.5 h7M608 558.5 h7M608 568.5 h7M608 578.5 h7M608 582.5 h7" stroke="#000" stroke-width="1" fill="none"/>
<text class="sb" x="617" y="345" font-size="11" letter-spacing="0.15">12.5</text>
<text class="sb" x="617" y="369" font-size="11" letter-spacing="0.15">10.0</text>
<text class="sb" x="617" y="388" font-size="11" letter-spacing="0.15">8.0</text>
<text class="sb" x="617" y="407" font-size="11" letter-spacing="0.15">6.0</text>
<text class="sb" x="617" y="427" font-size="11" letter-spacing="0.15">4.0</text>
<text class="sb" x="617" y="446" font-size="11" letter-spacing="0.15">2.0</text>
<text class="sb" x="617" y="466" font-size="11" letter-spacing="0.15">0</text>
<text class="sb" x="617" y="485" font-size="11" letter-spacing="0.15">-2.0</text>
<text class="sb" x="617" y="504" font-size="11" letter-spacing="0.15">-4.0</text>
<text class="sb" x="617" y="524" font-size="11" letter-spacing="0.15">-6.0</text>
<text class="sb" x="617" y="543" font-size="11" letter-spacing="0.15">-8.0</text>
<text class="sb" x="617" y="562" font-size="11" letter-spacing="0.15">-10.0</text>
<text class="sb" x="617" y="586" font-size="11" letter-spacing="0.15">-12.5</text>
<text class="sb" font-size="9.5" letter-spacing="-0.8" transform="translate(665 492.8) rotate(-90)">Doppler, Hz</text>
<path d="M669 402.5h8M672.5 399v7" stroke="#0000f0" stroke-width="1" fill="none"/>
<text class="sb" x="682.4" y="406.4" font-size="10" letter-spacing="0.08" style="fill:#0000f0">Positive</text>
<circle cx="673" cy="522.8" r="2.5" fill="none" stroke="#f00000" stroke-width="1"/>
<text class="sb" x="682.4" y="526.4" font-size="10" letter-spacing="0.1" style="fill:#f00000">Negative</text>
<text class="s" x="654" y="593" font-size="9" letter-spacing="0.28">ShowSkymap v 1.0   SD v 4.2</text>
<text class="m" x="12" y="572"><tspan class="i">V</tspan><tspan dy="4" font-size="10" style="letter-spacing:1px">h</tspan><tspan dy="-4"> = </tspan><tspan class="i">110</tspan> &#177; <tspan class="i">22</tspan> m/s</text>
<text class="m i" x="12" y="593">Geographic coordinates</text>
<text class="m" x="473" y="572"><tspan class="i">V</tspan><tspan dy="4" font-size="10" style="letter-spacing:1px">z</tspan><tspan dy="-4"> = </tspan><tspan class="i">23</tspan> &#177; <tspan class="i">1</tspan> m/s</text>
<text class="m i" x="419" y="593">Zenith: max 40</text>
<text class="m i" x="516.1" y="593.3">&#176;</text>
<text class="m i" x="534" y="593">step 5</text>
<text class="m i" x="575.2" y="593.3">&#176;</text>
</svg>
</body></html>
